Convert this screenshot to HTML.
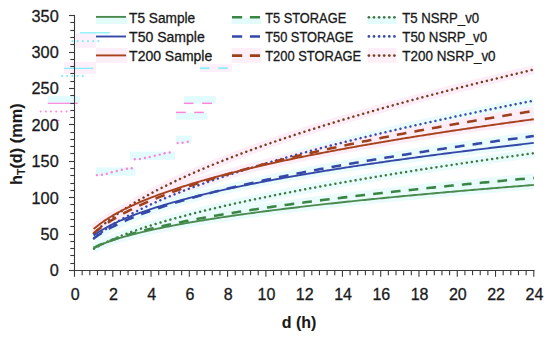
<!DOCTYPE html>
<html><head><meta charset="utf-8"><style>
html,body{margin:0;padding:0;background:#fff;}
body{width:550px;height:343px;overflow:hidden;}
svg{display:block;}
text{font-family:"Liberation Sans",sans-serif;fill:#1a1a1a;stroke:#1a1a1a;stroke-width:0.3px;}
</style></head><body>
<svg width="550" height="343" viewBox="0 0 550 343">
<rect width="550" height="343" fill="#fff"/>

<rect x="47.8" y="96.1" width="32.1" height="6.7" fill="#e2fcfd"/>
<rect x="184" y="96" width="31.8" height="7.6" fill="#e2fcfd"/>
<rect x="176" y="112.9" width="31.6" height="6.8" fill="#e2fcfd"/>
<rect x="175.8" y="135.7" width="15.9" height="7.7" fill="#e2fcfd"/>
<rect x="130" y="151.6" width="45.2" height="8.3" fill="#e2fcfd"/>
<rect x="95.8" y="167.5" width="39.6" height="8.2" fill="#e2fcfd"/>
<rect x="76" y="33" width="20.0" height="15.0" fill="#fdf0fa"/>
<rect x="200" y="64" width="32.0" height="8.0" fill="#fdf0fa"/>
<rect x="64" y="62" width="32.0" height="12.0" fill="#fdf0fa"/>
<rect x="95.8" y="18" width="31.6" height="6" fill="#e4fbfb"/>
<rect x="95.8" y="47.9" width="31.6" height="14.9" fill="#fdeff8"/>
<rect x="231.5" y="18" width="30.0" height="6" fill="#e4fbfb"/>
<rect x="231.5" y="47.9" width="30.0" height="14.9" fill="#fdeff8"/>
<rect x="367.5" y="18" width="29.0" height="6" fill="#e4fbfb"/>
<rect x="367.5" y="47.9" width="29.0" height="14.9" fill="#fdeff8"/>
<line x1="80.1" y1="32.8" x2="109.9" y2="32.8" stroke="#86f0f8" stroke-width="1.3"/>
<line x1="63.8" y1="68.4" x2="93.2" y2="68.4" stroke="#86f0f8" stroke-width="1.3"/>
<circle cx="72.4" cy="41.2" r="1.1" fill="#86f0f8"/>
<circle cx="77.6" cy="41.2" r="1.1" fill="#86f0f8"/>
<circle cx="82.8" cy="41.2" r="1.1" fill="#86f0f8"/>
<circle cx="88.0" cy="41.2" r="1.1" fill="#86f0f8"/>
<circle cx="93.2" cy="41.2" r="1.1" fill="#86f0f8"/>
<circle cx="98.4" cy="41.2" r="1.1" fill="#86f0f8"/>
<circle cx="62.0" cy="75.9" r="1.1" fill="#86f0f8"/>
<circle cx="67.2" cy="75.9" r="1.1" fill="#86f0f8"/>
<circle cx="72.4" cy="75.9" r="1.1" fill="#86f0f8"/>
<circle cx="77.6" cy="75.9" r="1.1" fill="#86f0f8"/>
<circle cx="82.8" cy="75.9" r="1.1" fill="#86f0f8"/>
<line x1="200" y1="68.2" x2="209.5" y2="68.2" stroke="#86f0f8" stroke-width="1.8"/>
<line x1="218.2" y1="68.2" x2="227.7" y2="68.2" stroke="#86f0f8" stroke-width="1.8"/>
<line x1="47.8" y1="103.3" x2="77.9" y2="103.3" stroke="#ff84dc" stroke-width="1.2"/>
<line x1="53" y1="120.4" x2="59.5" y2="120.4" stroke="#ff84dc" stroke-width="1.2"/>
<circle cx="40.6" cy="111.4" r="1.0" fill="#ff84dc"/>
<circle cx="45.8" cy="111.4" r="1.0" fill="#ff84dc"/>
<circle cx="51.0" cy="111.4" r="1.0" fill="#ff84dc"/>
<circle cx="56.2" cy="111.4" r="1.0" fill="#ff84dc"/>
<circle cx="61.4" cy="111.4" r="1.0" fill="#ff84dc"/>
<circle cx="66.6" cy="111.4" r="1.0" fill="#ff84dc"/>
<line x1="184" y1="103.3" x2="193.5" y2="103.3" stroke="#ff84dc" stroke-width="1.5"/>
<line x1="202.2" y1="103.3" x2="212" y2="103.3" stroke="#ff84dc" stroke-width="1.5"/>
<line x1="176" y1="112.4" x2="185.8" y2="112.4" stroke="#ff84dc" stroke-width="1.5"/>
<line x1="194.2" y1="112.4" x2="203.8" y2="112.4" stroke="#ff84dc" stroke-width="1.5"/>
<circle cx="177.7" cy="143.1" r="1.2" fill="#ff84dc"/>
<circle cx="182.6" cy="142.7" r="1.2" fill="#ff84dc"/>
<circle cx="187.7" cy="141.8" r="1.2" fill="#ff84dc"/>
<circle cx="134.8" cy="159.3" r="1.2" fill="#ff84dc"/>
<circle cx="139.9" cy="159" r="1.2" fill="#ff84dc"/>
<circle cx="144.9" cy="158" r="1.2" fill="#ff84dc"/>
<circle cx="149.7" cy="157" r="1.2" fill="#ff84dc"/>
<circle cx="154.8" cy="155.8" r="1.2" fill="#ff84dc"/>
<circle cx="159.7" cy="154.6" r="1.2" fill="#ff84dc"/>
<circle cx="164.6" cy="153.3" r="1.2" fill="#ff84dc"/>
<circle cx="169.7" cy="152.5" r="1.2" fill="#ff84dc"/>
<circle cx="96.9" cy="175.1" r="1.2" fill="#ff84dc"/>
<circle cx="101.9" cy="174.7" r="1.2" fill="#ff84dc"/>
<circle cx="106.8" cy="173.7" r="1.2" fill="#ff84dc"/>
<circle cx="111.7" cy="172.2" r="1.2" fill="#ff84dc"/>
<circle cx="116.8" cy="171" r="1.2" fill="#ff84dc"/>
<circle cx="121.8" cy="169.8" r="1.2" fill="#ff84dc"/>
<circle cx="126.9" cy="168.7" r="1.2" fill="#ff84dc"/>
<circle cx="131.7" cy="168.3" r="1.2" fill="#ff84dc"/>
<line x1="74.5" y1="15.2" x2="74.5" y2="271" stroke="#3a3a3a" stroke-width="1.1"/>
<line x1="74" y1="270.5" x2="534.3" y2="270.5" stroke="#3a3a3a" stroke-width="1.1"/>
<line x1="69" y1="270.5" x2="75" y2="270.5" stroke="#3a3a3a" stroke-width="1.1"/>
<line x1="70.3" y1="263.5" x2="75" y2="263.5" stroke="#3a3a3a" stroke-width="1.1"/>
<line x1="70.3" y1="255.5" x2="75" y2="255.5" stroke="#3a3a3a" stroke-width="1.1"/>
<line x1="70.3" y1="248.5" x2="75" y2="248.5" stroke="#3a3a3a" stroke-width="1.1"/>
<line x1="70.3" y1="241.5" x2="75" y2="241.5" stroke="#3a3a3a" stroke-width="1.1"/>
<line x1="69" y1="234.5" x2="75" y2="234.5" stroke="#3a3a3a" stroke-width="1.1"/>
<line x1="70.3" y1="226.5" x2="75" y2="226.5" stroke="#3a3a3a" stroke-width="1.1"/>
<line x1="70.3" y1="219.5" x2="75" y2="219.5" stroke="#3a3a3a" stroke-width="1.1"/>
<line x1="70.3" y1="212.5" x2="75" y2="212.5" stroke="#3a3a3a" stroke-width="1.1"/>
<line x1="70.3" y1="204.5" x2="75" y2="204.5" stroke="#3a3a3a" stroke-width="1.1"/>
<line x1="69" y1="197.5" x2="75" y2="197.5" stroke="#3a3a3a" stroke-width="1.1"/>
<line x1="70.3" y1="190.5" x2="75" y2="190.5" stroke="#3a3a3a" stroke-width="1.1"/>
<line x1="70.3" y1="183.5" x2="75" y2="183.5" stroke="#3a3a3a" stroke-width="1.1"/>
<line x1="70.3" y1="175.5" x2="75" y2="175.5" stroke="#3a3a3a" stroke-width="1.1"/>
<line x1="70.3" y1="168.5" x2="75" y2="168.5" stroke="#3a3a3a" stroke-width="1.1"/>
<line x1="69" y1="161.5" x2="75" y2="161.5" stroke="#3a3a3a" stroke-width="1.1"/>
<line x1="70.3" y1="153.5" x2="75" y2="153.5" stroke="#3a3a3a" stroke-width="1.1"/>
<line x1="70.3" y1="146.5" x2="75" y2="146.5" stroke="#3a3a3a" stroke-width="1.1"/>
<line x1="70.3" y1="139.5" x2="75" y2="139.5" stroke="#3a3a3a" stroke-width="1.1"/>
<line x1="70.3" y1="132.5" x2="75" y2="132.5" stroke="#3a3a3a" stroke-width="1.1"/>
<line x1="69" y1="124.5" x2="75" y2="124.5" stroke="#3a3a3a" stroke-width="1.1"/>
<line x1="70.3" y1="117.5" x2="75" y2="117.5" stroke="#3a3a3a" stroke-width="1.1"/>
<line x1="70.3" y1="110.5" x2="75" y2="110.5" stroke="#3a3a3a" stroke-width="1.1"/>
<line x1="70.3" y1="103.5" x2="75" y2="103.5" stroke="#3a3a3a" stroke-width="1.1"/>
<line x1="70.3" y1="95.5" x2="75" y2="95.5" stroke="#3a3a3a" stroke-width="1.1"/>
<line x1="69" y1="88.5" x2="75" y2="88.5" stroke="#3a3a3a" stroke-width="1.1"/>
<line x1="70.3" y1="81.5" x2="75" y2="81.5" stroke="#3a3a3a" stroke-width="1.1"/>
<line x1="70.3" y1="73.5" x2="75" y2="73.5" stroke="#3a3a3a" stroke-width="1.1"/>
<line x1="70.3" y1="66.5" x2="75" y2="66.5" stroke="#3a3a3a" stroke-width="1.1"/>
<line x1="70.3" y1="59.5" x2="75" y2="59.5" stroke="#3a3a3a" stroke-width="1.1"/>
<line x1="69" y1="52.5" x2="75" y2="52.5" stroke="#3a3a3a" stroke-width="1.1"/>
<line x1="70.3" y1="44.5" x2="75" y2="44.5" stroke="#3a3a3a" stroke-width="1.1"/>
<line x1="70.3" y1="37.5" x2="75" y2="37.5" stroke="#3a3a3a" stroke-width="1.1"/>
<line x1="70.3" y1="30.5" x2="75" y2="30.5" stroke="#3a3a3a" stroke-width="1.1"/>
<line x1="70.3" y1="22.5" x2="75" y2="22.5" stroke="#3a3a3a" stroke-width="1.1"/>
<line x1="69" y1="15.5" x2="75" y2="15.5" stroke="#3a3a3a" stroke-width="1.1"/>
<line x1="74.50" y1="270" x2="74.50" y2="276.8" stroke="#3a3a3a" stroke-width="1.1"/>
<line x1="82.16" y1="270" x2="82.16" y2="275.2" stroke="#3a3a3a" stroke-width="1.1"/>
<line x1="89.81" y1="270" x2="89.81" y2="275.2" stroke="#3a3a3a" stroke-width="1.1"/>
<line x1="97.47" y1="270" x2="97.47" y2="275.2" stroke="#3a3a3a" stroke-width="1.1"/>
<line x1="105.12" y1="270" x2="105.12" y2="275.2" stroke="#3a3a3a" stroke-width="1.1"/>
<line x1="112.78" y1="270" x2="112.78" y2="276.8" stroke="#3a3a3a" stroke-width="1.1"/>
<line x1="120.43" y1="270" x2="120.43" y2="275.2" stroke="#3a3a3a" stroke-width="1.1"/>
<line x1="128.09" y1="270" x2="128.09" y2="275.2" stroke="#3a3a3a" stroke-width="1.1"/>
<line x1="135.74" y1="270" x2="135.74" y2="275.2" stroke="#3a3a3a" stroke-width="1.1"/>
<line x1="143.39" y1="270" x2="143.39" y2="275.2" stroke="#3a3a3a" stroke-width="1.1"/>
<line x1="151.05" y1="270" x2="151.05" y2="276.8" stroke="#3a3a3a" stroke-width="1.1"/>
<line x1="158.70" y1="270" x2="158.70" y2="275.2" stroke="#3a3a3a" stroke-width="1.1"/>
<line x1="166.36" y1="270" x2="166.36" y2="275.2" stroke="#3a3a3a" stroke-width="1.1"/>
<line x1="174.01" y1="270" x2="174.01" y2="275.2" stroke="#3a3a3a" stroke-width="1.1"/>
<line x1="181.67" y1="270" x2="181.67" y2="275.2" stroke="#3a3a3a" stroke-width="1.1"/>
<line x1="189.32" y1="270" x2="189.32" y2="276.8" stroke="#3a3a3a" stroke-width="1.1"/>
<line x1="196.98" y1="270" x2="196.98" y2="275.2" stroke="#3a3a3a" stroke-width="1.1"/>
<line x1="204.64" y1="270" x2="204.64" y2="275.2" stroke="#3a3a3a" stroke-width="1.1"/>
<line x1="212.29" y1="270" x2="212.29" y2="275.2" stroke="#3a3a3a" stroke-width="1.1"/>
<line x1="219.94" y1="270" x2="219.94" y2="275.2" stroke="#3a3a3a" stroke-width="1.1"/>
<line x1="227.60" y1="270" x2="227.60" y2="276.8" stroke="#3a3a3a" stroke-width="1.1"/>
<line x1="235.25" y1="270" x2="235.25" y2="275.2" stroke="#3a3a3a" stroke-width="1.1"/>
<line x1="242.91" y1="270" x2="242.91" y2="275.2" stroke="#3a3a3a" stroke-width="1.1"/>
<line x1="250.57" y1="270" x2="250.57" y2="275.2" stroke="#3a3a3a" stroke-width="1.1"/>
<line x1="258.22" y1="270" x2="258.22" y2="275.2" stroke="#3a3a3a" stroke-width="1.1"/>
<line x1="265.88" y1="270" x2="265.88" y2="276.8" stroke="#3a3a3a" stroke-width="1.1"/>
<line x1="273.53" y1="270" x2="273.53" y2="275.2" stroke="#3a3a3a" stroke-width="1.1"/>
<line x1="281.19" y1="270" x2="281.19" y2="275.2" stroke="#3a3a3a" stroke-width="1.1"/>
<line x1="288.84" y1="270" x2="288.84" y2="275.2" stroke="#3a3a3a" stroke-width="1.1"/>
<line x1="296.50" y1="270" x2="296.50" y2="275.2" stroke="#3a3a3a" stroke-width="1.1"/>
<line x1="304.15" y1="270" x2="304.15" y2="276.8" stroke="#3a3a3a" stroke-width="1.1"/>
<line x1="311.81" y1="270" x2="311.81" y2="275.2" stroke="#3a3a3a" stroke-width="1.1"/>
<line x1="319.46" y1="270" x2="319.46" y2="275.2" stroke="#3a3a3a" stroke-width="1.1"/>
<line x1="327.12" y1="270" x2="327.12" y2="275.2" stroke="#3a3a3a" stroke-width="1.1"/>
<line x1="334.77" y1="270" x2="334.77" y2="275.2" stroke="#3a3a3a" stroke-width="1.1"/>
<line x1="342.43" y1="270" x2="342.43" y2="276.8" stroke="#3a3a3a" stroke-width="1.1"/>
<line x1="350.08" y1="270" x2="350.08" y2="275.2" stroke="#3a3a3a" stroke-width="1.1"/>
<line x1="357.74" y1="270" x2="357.74" y2="275.2" stroke="#3a3a3a" stroke-width="1.1"/>
<line x1="365.39" y1="270" x2="365.39" y2="275.2" stroke="#3a3a3a" stroke-width="1.1"/>
<line x1="373.05" y1="270" x2="373.05" y2="275.2" stroke="#3a3a3a" stroke-width="1.1"/>
<line x1="380.70" y1="270" x2="380.70" y2="276.8" stroke="#3a3a3a" stroke-width="1.1"/>
<line x1="388.36" y1="270" x2="388.36" y2="275.2" stroke="#3a3a3a" stroke-width="1.1"/>
<line x1="396.01" y1="270" x2="396.01" y2="275.2" stroke="#3a3a3a" stroke-width="1.1"/>
<line x1="403.66" y1="270" x2="403.66" y2="275.2" stroke="#3a3a3a" stroke-width="1.1"/>
<line x1="411.32" y1="270" x2="411.32" y2="275.2" stroke="#3a3a3a" stroke-width="1.1"/>
<line x1="418.97" y1="270" x2="418.97" y2="276.8" stroke="#3a3a3a" stroke-width="1.1"/>
<line x1="426.63" y1="270" x2="426.63" y2="275.2" stroke="#3a3a3a" stroke-width="1.1"/>
<line x1="434.29" y1="270" x2="434.29" y2="275.2" stroke="#3a3a3a" stroke-width="1.1"/>
<line x1="441.94" y1="270" x2="441.94" y2="275.2" stroke="#3a3a3a" stroke-width="1.1"/>
<line x1="449.60" y1="270" x2="449.60" y2="275.2" stroke="#3a3a3a" stroke-width="1.1"/>
<line x1="457.25" y1="270" x2="457.25" y2="276.8" stroke="#3a3a3a" stroke-width="1.1"/>
<line x1="464.91" y1="270" x2="464.91" y2="275.2" stroke="#3a3a3a" stroke-width="1.1"/>
<line x1="472.56" y1="270" x2="472.56" y2="275.2" stroke="#3a3a3a" stroke-width="1.1"/>
<line x1="480.22" y1="270" x2="480.22" y2="275.2" stroke="#3a3a3a" stroke-width="1.1"/>
<line x1="487.87" y1="270" x2="487.87" y2="275.2" stroke="#3a3a3a" stroke-width="1.1"/>
<line x1="495.52" y1="270" x2="495.52" y2="276.8" stroke="#3a3a3a" stroke-width="1.1"/>
<line x1="503.18" y1="270" x2="503.18" y2="275.2" stroke="#3a3a3a" stroke-width="1.1"/>
<line x1="510.83" y1="270" x2="510.83" y2="275.2" stroke="#3a3a3a" stroke-width="1.1"/>
<line x1="518.49" y1="270" x2="518.49" y2="275.2" stroke="#3a3a3a" stroke-width="1.1"/>
<line x1="526.14" y1="270" x2="526.14" y2="275.2" stroke="#3a3a3a" stroke-width="1.1"/>
<line x1="533.80" y1="270" x2="533.80" y2="276.8" stroke="#3a3a3a" stroke-width="1.1"/>
<text x="58.7" y="276.30" font-size="16.3" text-anchor="end">0</text>
<text x="58.7" y="239.91" font-size="16.3" text-anchor="end">50</text>
<text x="58.7" y="203.53" font-size="16.3" text-anchor="end">100</text>
<text x="58.7" y="167.14" font-size="16.3" text-anchor="end">150</text>
<text x="58.7" y="130.76" font-size="16.3" text-anchor="end">200</text>
<text x="58.7" y="94.37" font-size="16.3" text-anchor="end">250</text>
<text x="58.7" y="57.99" font-size="16.3" text-anchor="end">300</text>
<text x="58.7" y="21.60" font-size="16.3" text-anchor="end">350</text>
<text x="75.10" y="300.2" font-size="16" text-anchor="middle">0</text>
<text x="113.38" y="300.2" font-size="16" text-anchor="middle">2</text>
<text x="151.65" y="300.2" font-size="16" text-anchor="middle">4</text>
<text x="189.92" y="300.2" font-size="16" text-anchor="middle">6</text>
<text x="228.20" y="300.2" font-size="16" text-anchor="middle">8</text>
<text x="266.48" y="300.2" font-size="16" text-anchor="middle">10</text>
<text x="304.75" y="300.2" font-size="16" text-anchor="middle">12</text>
<text x="343.03" y="300.2" font-size="16" text-anchor="middle">14</text>
<text x="381.30" y="300.2" font-size="16" text-anchor="middle">16</text>
<text x="419.57" y="300.2" font-size="16" text-anchor="middle">18</text>
<text x="457.85" y="300.2" font-size="16" text-anchor="middle">20</text>
<text x="496.12" y="300.2" font-size="16" text-anchor="middle">22</text>
<text x="534.40" y="300.2" font-size="16" text-anchor="middle">24</text>
<text x="299" y="328.1" font-size="16" font-weight="bold" text-anchor="middle" style="stroke-width:0.1px">d (h)</text>
<text transform="translate(22.2,144.2) rotate(-90)" font-size="16.3" font-weight="bold" text-anchor="middle" style="stroke-width:0.1px">h<tspan font-size="10.5" dy="2.6">T</tspan><tspan dy="-2.6">(d) (mm)</tspan></text>
<path d="M93.64,247.84 L95.84,246.79 L98.04,245.80 L100.24,244.86 L102.44,243.97 L104.64,243.11 L106.84,242.29 L109.04,241.51 L111.24,240.75 L113.44,240.02 L115.65,239.31 L117.85,238.62 L120.05,237.96 L122.25,237.31 L124.45,236.68 L126.65,236.07 L128.85,235.47 L131.05,234.88 L133.25,234.31 L135.45,233.75 L137.65,233.20 L139.85,232.66 L142.06,232.13 L144.26,231.61 L146.46,231.11 L148.66,230.61 L150.86,230.12 L153.06,229.63 L155.26,229.16 L157.46,228.69 L159.66,228.23 L161.86,227.78 L164.06,227.33 L166.26,226.89 L168.47,226.46 L170.67,226.03 L172.87,225.61 L175.07,225.19 L177.27,224.78 L179.47,224.37 L181.67,223.97 L183.87,223.57 L186.07,223.18 L188.27,222.79 L190.47,222.41 L192.67,222.03 L194.87,221.65 L197.08,221.28 L199.28,220.91 L201.48,220.55 L203.68,220.19 L205.88,219.83 L208.08,219.48 L210.28,219.13 L212.48,218.78 L214.68,218.44 L216.88,218.10 L219.08,217.76 L221.28,217.43 L223.49,217.10 L225.69,216.77 L227.89,216.44 L230.09,216.12 L232.29,215.80 L234.49,215.48 L236.69,215.17 L238.89,214.85 L241.09,214.54 L243.29,214.24 L245.49,213.93 L247.69,213.63 L249.90,213.32 L252.10,213.03 L254.30,212.73 L256.50,212.43 L258.70,212.14 L260.90,211.85 L263.10,211.56 L265.30,211.28 L267.50,210.99 L269.70,210.71 L271.90,210.43 L274.10,210.15 L276.30,209.87 L278.51,209.59 L280.71,209.32 L282.91,209.05 L285.11,208.78 L287.31,208.51 L289.51,208.24 L291.71,207.98 L293.91,207.71 L296.11,207.45 L298.31,207.19 L300.51,206.93 L302.71,206.67 L304.92,206.41 L307.12,206.16 L309.32,205.90 L311.52,205.65 L313.72,205.40 L315.92,205.15 L318.12,204.90 L320.32,204.65 L322.52,204.41 L324.72,204.16 L326.92,203.92 L329.12,203.68 L331.33,203.44 L333.53,203.20 L335.73,202.96 L337.93,202.72 L340.13,202.48 L342.33,202.25 L344.53,202.01 L346.73,201.78 L348.93,201.55 L351.13,201.32 L353.33,201.09 L355.53,200.86 L357.74,200.63 L359.94,200.41 L362.14,200.18 L364.34,199.96 L366.54,199.73 L368.74,199.51 L370.94,199.29 L373.14,199.07 L375.34,198.85 L377.54,198.63 L379.74,198.41 L381.94,198.19 L384.14,197.98 L386.35,197.76 L388.55,197.55 L390.75,197.33 L392.95,197.12 L395.15,196.91 L397.35,196.70 L399.55,196.49 L401.75,196.28 L403.95,196.07 L406.15,195.86 L408.35,195.66 L410.55,195.45 L412.76,195.25 L414.96,195.04 L417.16,194.84 L419.36,194.63 L421.56,194.43 L423.76,194.23 L425.96,194.03 L428.16,193.83 L430.36,193.63 L432.56,193.43 L434.76,193.23 L436.96,193.04 L439.17,192.84 L441.37,192.64 L443.57,192.45 L445.77,192.25 L447.97,192.06 L450.17,191.87 L452.37,191.68 L454.57,191.48 L456.77,191.29 L458.97,191.10 L461.17,190.91 L463.37,190.72 L465.57,190.53 L467.78,190.35 L469.98,190.16 L472.18,189.97 L474.38,189.79 L476.58,189.60 L478.78,189.42 L480.98,189.23 L483.18,189.05 L485.38,188.86 L487.58,188.68 L489.78,188.50 L491.98,188.32 L494.19,188.14 L496.39,187.96 L498.59,187.78 L500.79,187.60 L502.99,187.42 L505.19,187.24 L507.39,187.06 L509.59,186.88 L511.79,186.71 L513.99,186.53 L516.19,186.36 L518.39,186.18 L520.60,186.01 L522.80,185.83 L525.00,185.66 L527.20,185.48 L529.40,185.31 L531.60,185.14 L533.80,184.97" stroke="#e9fbfa" stroke-width="9" fill="none" stroke-linecap="butt"/>
<path d="M93.64,235.54 L95.84,233.96 L98.04,232.47 L100.24,231.06 L102.44,229.72 L104.64,228.45 L106.84,227.22 L109.04,226.05 L111.24,224.91 L113.44,223.82 L115.65,222.77 L117.85,221.74 L120.05,220.75 L122.25,219.78 L124.45,218.84 L126.65,217.93 L128.85,217.04 L131.05,216.17 L133.25,215.31 L135.45,214.48 L137.65,213.67 L139.85,212.87 L142.06,212.09 L144.26,211.32 L146.46,210.56 L148.66,209.82 L150.86,209.10 L153.06,208.38 L155.26,207.68 L157.46,206.99 L159.66,206.31 L161.86,205.64 L164.06,204.97 L166.26,204.32 L168.47,203.68 L170.67,203.05 L172.87,202.42 L175.07,201.81 L177.27,201.20 L179.47,200.60 L181.67,200.00 L183.87,199.42 L186.07,198.84 L188.27,198.27 L190.47,197.70 L192.67,197.14 L194.87,196.59 L197.08,196.04 L199.28,195.50 L201.48,194.96 L203.68,194.43 L205.88,193.90 L208.08,193.38 L210.28,192.87 L212.48,192.36 L214.68,191.85 L216.88,191.35 L219.08,190.86 L221.28,190.36 L223.49,189.88 L225.69,189.39 L227.89,188.91 L230.09,188.44 L232.29,187.97 L234.49,187.50 L236.69,187.04 L238.89,186.58 L241.09,186.12 L243.29,185.67 L245.49,185.22 L247.69,184.78 L249.90,184.33 L252.10,183.89 L254.30,183.46 L256.50,183.03 L258.70,182.60 L260.90,182.17 L263.10,181.75 L265.30,181.33 L267.50,180.91 L269.70,180.49 L271.90,180.08 L274.10,179.67 L276.30,179.26 L278.51,178.86 L280.71,178.46 L282.91,178.06 L285.11,177.66 L287.31,177.27 L289.51,176.88 L291.71,176.49 L293.91,176.10 L296.11,175.72 L298.31,175.33 L300.51,174.95 L302.71,174.57 L304.92,174.20 L307.12,173.82 L309.32,173.45 L311.52,173.08 L313.72,172.72 L315.92,172.35 L318.12,171.99 L320.32,171.62 L322.52,171.26 L324.72,170.91 L326.92,170.55 L329.12,170.20 L331.33,169.84 L333.53,169.49 L335.73,169.14 L337.93,168.80 L340.13,168.45 L342.33,168.11 L344.53,167.77 L346.73,167.42 L348.93,167.09 L351.13,166.75 L353.33,166.41 L355.53,166.08 L357.74,165.75 L359.94,165.42 L362.14,165.09 L364.34,164.76 L366.54,164.43 L368.74,164.11 L370.94,163.78 L373.14,163.46 L375.34,163.14 L377.54,162.82 L379.74,162.50 L381.94,162.19 L384.14,161.87 L386.35,161.56 L388.55,161.24 L390.75,160.93 L392.95,160.62 L395.15,160.31 L397.35,160.00 L399.55,159.70 L401.75,159.39 L403.95,159.09 L406.15,158.79 L408.35,158.48 L410.55,158.18 L412.76,157.88 L414.96,157.59 L417.16,157.29 L419.36,156.99 L421.56,156.70 L423.76,156.41 L425.96,156.11 L428.16,155.82 L430.36,155.53 L432.56,155.24 L434.76,154.95 L436.96,154.67 L439.17,154.38 L441.37,154.10 L443.57,153.81 L445.77,153.53 L447.97,153.25 L450.17,152.96 L452.37,152.68 L454.57,152.41 L456.77,152.13 L458.97,151.85 L461.17,151.57 L463.37,151.30 L465.57,151.02 L467.78,150.75 L469.98,150.48 L472.18,150.20 L474.38,149.93 L476.58,149.66 L478.78,149.39 L480.98,149.13 L483.18,148.86 L485.38,148.59 L487.58,148.33 L489.78,148.06 L491.98,147.80 L494.19,147.53 L496.39,147.27 L498.59,147.01 L500.79,146.75 L502.99,146.49 L505.19,146.23 L507.39,145.97 L509.59,145.71 L511.79,145.46 L513.99,145.20 L516.19,144.94 L518.39,144.69 L520.60,144.44 L522.80,144.18 L525.00,143.93 L527.20,143.68 L529.40,143.43 L531.60,143.18 L533.80,142.93" stroke="#e9fbfa" stroke-width="9" fill="none" stroke-linecap="butt"/>
<path d="M93.64,247.91 L95.84,246.80 L98.04,245.74 L100.24,244.74 L102.44,243.79 L104.64,242.88 L106.84,242.00 L109.04,241.16 L111.24,240.34 L113.44,239.55 L115.65,238.79 L117.85,238.05 L120.05,237.33 L122.25,236.62 L124.45,235.94 L126.65,235.27 L128.85,234.62 L131.05,233.98 L133.25,233.36 L135.45,232.75 L137.65,232.15 L139.85,231.56 L142.06,230.98 L144.26,230.42 L146.46,229.86 L148.66,229.31 L150.86,228.78 L153.06,228.25 L155.26,227.72 L157.46,227.21 L159.66,226.71 L161.86,226.21 L164.06,225.71 L166.26,225.23 L168.47,224.75 L170.67,224.28 L172.87,223.81 L175.07,223.35 L177.27,222.89 L179.47,222.44 L181.67,222.00 L183.87,221.56 L186.07,221.12 L188.27,220.69 L190.47,220.27 L192.67,219.85 L194.87,219.43 L197.08,219.02 L199.28,218.61 L201.48,218.20 L203.68,217.80 L205.88,217.41 L208.08,217.01 L210.28,216.62 L212.48,216.24 L214.68,215.86 L216.88,215.48 L219.08,215.10 L221.28,214.73 L223.49,214.36 L225.69,213.99 L227.89,213.63 L230.09,213.27 L232.29,212.91 L234.49,212.55 L236.69,212.20 L238.89,211.85 L241.09,211.50 L243.29,211.16 L245.49,210.81 L247.69,210.47 L249.90,210.14 L252.10,209.80 L254.30,209.47 L256.50,209.14 L258.70,208.81 L260.90,208.48 L263.10,208.16 L265.30,207.84 L267.50,207.52 L269.70,207.20 L271.90,206.88 L274.10,206.57 L276.30,206.25 L278.51,205.94 L280.71,205.64 L282.91,205.33 L285.11,205.02 L287.31,204.72 L289.51,204.42 L291.71,204.12 L293.91,203.82 L296.11,203.53 L298.31,203.23 L300.51,202.94 L302.71,202.65 L304.92,202.36 L307.12,202.07 L309.32,201.78 L311.52,201.50 L313.72,201.21 L315.92,200.93 L318.12,200.65 L320.32,200.37 L322.52,200.09 L324.72,199.81 L326.92,199.54 L329.12,199.26 L331.33,198.99 L333.53,198.72 L335.73,198.45 L337.93,198.18 L340.13,197.91 L342.33,197.64 L344.53,197.38 L346.73,197.11 L348.93,196.85 L351.13,196.59 L353.33,196.33 L355.53,196.07 L357.74,195.81 L359.94,195.55 L362.14,195.30 L364.34,195.04 L366.54,194.79 L368.74,194.53 L370.94,194.28 L373.14,194.03 L375.34,193.78 L377.54,193.53 L379.74,193.28 L381.94,193.04 L384.14,192.79 L386.35,192.55 L388.55,192.30 L390.75,192.06 L392.95,191.82 L395.15,191.58 L397.35,191.34 L399.55,191.10 L401.75,190.86 L403.95,190.62 L406.15,190.38 L408.35,190.15 L410.55,189.91 L412.76,189.68 L414.96,189.45 L417.16,189.21 L419.36,188.98 L421.56,188.75 L423.76,188.52 L425.96,188.29 L428.16,188.06 L430.36,187.84 L432.56,187.61 L434.76,187.38 L436.96,187.16 L439.17,186.93 L441.37,186.71 L443.57,186.49 L445.77,186.26 L447.97,186.04 L450.17,185.82 L452.37,185.60 L454.57,185.38 L456.77,185.16 L458.97,184.95 L461.17,184.73 L463.37,184.51 L465.57,184.30 L467.78,184.08 L469.98,183.87 L472.18,183.65 L474.38,183.44 L476.58,183.23 L478.78,183.01 L480.98,182.80 L483.18,182.59 L485.38,182.38 L487.58,182.17 L489.78,181.96 L491.98,181.75 L494.19,181.55 L496.39,181.34 L498.59,181.13 L500.79,180.93 L502.99,180.72 L505.19,180.52 L507.39,180.31 L509.59,180.11 L511.79,179.91 L513.99,179.70 L516.19,179.50 L518.39,179.30 L520.60,179.10 L522.80,178.90 L525.00,178.70 L527.20,178.50 L529.40,178.30 L531.60,178.11 L533.80,177.91" stroke="#e9fbfa" stroke-width="9" fill="none" stroke-linecap="butt"/>
<path d="M93.64,238.45 L95.84,236.84 L98.04,235.32 L100.24,233.87 L102.44,232.49 L104.64,231.17 L106.84,229.90 L109.04,228.68 L111.24,227.50 L113.44,226.36 L115.65,225.25 L117.85,224.17 L120.05,223.13 L122.25,222.11 L124.45,221.11 L126.65,220.14 L128.85,219.19 L131.05,218.27 L133.25,217.36 L135.45,216.47 L137.65,215.60 L139.85,214.74 L142.06,213.90 L144.26,213.08 L146.46,212.27 L148.66,211.47 L150.86,210.69 L153.06,209.92 L155.26,209.16 L157.46,208.41 L159.66,207.67 L161.86,206.94 L164.06,206.22 L166.26,205.52 L168.47,204.82 L170.67,204.13 L172.87,203.45 L175.07,202.77 L177.27,202.11 L179.47,201.45 L181.67,200.80 L183.87,200.16 L186.07,199.52 L188.27,198.90 L190.47,198.27 L192.67,197.66 L194.87,197.05 L197.08,196.45 L199.28,195.85 L201.48,195.26 L203.68,194.67 L205.88,194.09 L208.08,193.52 L210.28,192.95 L212.48,192.38 L214.68,191.82 L216.88,191.27 L219.08,190.71 L221.28,190.17 L223.49,189.63 L225.69,189.09 L227.89,188.56 L230.09,188.03 L232.29,187.50 L234.49,186.98 L236.69,186.47 L238.89,185.95 L241.09,185.44 L243.29,184.94 L245.49,184.44 L247.69,183.94 L249.90,183.44 L252.10,182.95 L254.30,182.46 L256.50,181.98 L258.70,181.50 L260.90,181.02 L263.10,180.54 L265.30,180.07 L267.50,179.60 L269.70,179.14 L271.90,178.67 L274.10,178.21 L276.30,177.75 L278.51,177.30 L280.71,176.84 L282.91,176.39 L285.11,175.95 L287.31,175.50 L289.51,175.06 L291.71,174.62 L293.91,174.18 L296.11,173.75 L298.31,173.31 L300.51,172.88 L302.71,172.46 L304.92,172.03 L307.12,171.61 L309.32,171.19 L311.52,170.77 L313.72,170.35 L315.92,169.93 L318.12,169.52 L320.32,169.11 L322.52,168.70 L324.72,168.29 L326.92,167.89 L329.12,167.49 L331.33,167.09 L333.53,166.69 L335.73,166.29 L337.93,165.89 L340.13,165.50 L342.33,165.11 L344.53,164.72 L346.73,164.33 L348.93,163.94 L351.13,163.56 L353.33,163.17 L355.53,162.79 L357.74,162.41 L359.94,162.03 L362.14,161.66 L364.34,161.28 L366.54,160.91 L368.74,160.54 L370.94,160.16 L373.14,159.80 L375.34,159.43 L377.54,159.06 L379.74,158.70 L381.94,158.33 L384.14,157.97 L386.35,157.61 L388.55,157.25 L390.75,156.89 L392.95,156.54 L395.15,156.18 L397.35,155.83 L399.55,155.48 L401.75,155.13 L403.95,154.78 L406.15,154.43 L408.35,154.08 L410.55,153.73 L412.76,153.39 L414.96,153.05 L417.16,152.70 L419.36,152.36 L421.56,152.02 L423.76,151.68 L425.96,151.35 L428.16,151.01 L430.36,150.68 L432.56,150.34 L434.76,150.01 L436.96,149.68 L439.17,149.35 L441.37,149.02 L443.57,148.69 L445.77,148.36 L447.97,148.03 L450.17,147.71 L452.37,147.38 L454.57,147.06 L456.77,146.74 L458.97,146.42 L461.17,146.10 L463.37,145.78 L465.57,145.46 L467.78,145.14 L469.98,144.82 L472.18,144.51 L474.38,144.20 L476.58,143.88 L478.78,143.57 L480.98,143.26 L483.18,142.95 L485.38,142.64 L487.58,142.33 L489.78,142.02 L491.98,141.71 L494.19,141.41 L496.39,141.10 L498.59,140.80 L500.79,140.49 L502.99,140.19 L505.19,139.89 L507.39,139.59 L509.59,139.29 L511.79,138.99 L513.99,138.69 L516.19,138.39 L518.39,138.10 L520.60,137.80 L522.80,137.50 L525.00,137.21 L527.20,136.92 L529.40,136.62 L531.60,136.33 L533.80,136.04" stroke="#e9fbfa" stroke-width="9" fill="none" stroke-linecap="butt"/>
<path d="M93.64,248.93 L95.84,247.65 L98.04,246.42 L100.24,245.25 L102.44,244.13 L104.64,243.04 L106.84,241.99 L109.04,240.97 L111.24,239.99 L113.44,239.03 L115.65,238.09 L117.85,237.18 L120.05,236.29 L122.25,235.42 L124.45,234.57 L126.65,233.73 L128.85,232.92 L131.05,232.11 L133.25,231.32 L135.45,230.55 L137.65,229.79 L139.85,229.04 L142.06,228.30 L144.26,227.57 L146.46,226.86 L148.66,226.15 L150.86,225.45 L153.06,224.77 L155.26,224.09 L157.46,223.42 L159.66,222.76 L161.86,222.10 L164.06,221.46 L166.26,220.82 L168.47,220.19 L170.67,219.56 L172.87,218.94 L175.07,218.33 L177.27,217.73 L179.47,217.13 L181.67,216.53 L183.87,215.95 L186.07,215.36 L188.27,214.79 L190.47,214.22 L192.67,213.65 L194.87,213.09 L197.08,212.53 L199.28,211.98 L201.48,211.43 L203.68,210.89 L205.88,210.35 L208.08,209.81 L210.28,209.28 L212.48,208.75 L214.68,208.23 L216.88,207.71 L219.08,207.19 L221.28,206.68 L223.49,206.17 L225.69,205.67 L227.89,205.17 L230.09,204.67 L232.29,204.18 L234.49,203.68 L236.69,203.20 L238.89,202.71 L241.09,202.23 L243.29,201.75 L245.49,201.27 L247.69,200.80 L249.90,200.33 L252.10,199.86 L254.30,199.39 L256.50,198.93 L258.70,198.47 L260.90,198.01 L263.10,197.56 L265.30,197.10 L267.50,196.65 L269.70,196.21 L271.90,195.76 L274.10,195.32 L276.30,194.88 L278.51,194.44 L280.71,194.00 L282.91,193.57 L285.11,193.13 L287.31,192.70 L289.51,192.28 L291.71,191.85 L293.91,191.43 L296.11,191.00 L298.31,190.58 L300.51,190.17 L302.71,189.75 L304.92,189.34 L307.12,188.92 L309.32,188.51 L311.52,188.10 L313.72,187.70 L315.92,187.29 L318.12,186.89 L320.32,186.49 L322.52,186.08 L324.72,185.69 L326.92,185.29 L329.12,184.89 L331.33,184.50 L333.53,184.11 L335.73,183.72 L337.93,183.33 L340.13,182.94 L342.33,182.55 L344.53,182.17 L346.73,181.79 L348.93,181.40 L351.13,181.02 L353.33,180.64 L355.53,180.27 L357.74,179.89 L359.94,179.52 L362.14,179.14 L364.34,178.77 L366.54,178.40 L368.74,178.03 L370.94,177.66 L373.14,177.29 L375.34,176.93 L377.54,176.56 L379.74,176.20 L381.94,175.84 L384.14,175.48 L386.35,175.12 L388.55,174.76 L390.75,174.40 L392.95,174.05 L395.15,173.69 L397.35,173.34 L399.55,172.98 L401.75,172.63 L403.95,172.28 L406.15,171.93 L408.35,171.58 L410.55,171.24 L412.76,170.89 L414.96,170.55 L417.16,170.20 L419.36,169.86 L421.56,169.52 L423.76,169.17 L425.96,168.83 L428.16,168.50 L430.36,168.16 L432.56,167.82 L434.76,167.48 L436.96,167.15 L439.17,166.81 L441.37,166.48 L443.57,166.15 L445.77,165.82 L447.97,165.49 L450.17,165.16 L452.37,164.83 L454.57,164.50 L456.77,164.17 L458.97,163.85 L461.17,163.52 L463.37,163.20 L465.57,162.87 L467.78,162.55 L469.98,162.23 L472.18,161.91 L474.38,161.59 L476.58,161.27 L478.78,160.95 L480.98,160.63 L483.18,160.32 L485.38,160.00 L487.58,159.68 L489.78,159.37 L491.98,159.06 L494.19,158.74 L496.39,158.43 L498.59,158.12 L500.79,157.81 L502.99,157.50 L505.19,157.19 L507.39,156.88 L509.59,156.57 L511.79,156.26 L513.99,155.96 L516.19,155.65 L518.39,155.35 L520.60,155.04 L522.80,154.74 L525.00,154.44 L527.20,154.13 L529.40,153.83 L531.60,153.53 L533.80,153.23" stroke="#e9fbfa" stroke-width="9" fill="none" stroke-linecap="butt"/>
<path d="M93.64,238.60 L95.84,236.72 L98.04,234.93 L100.24,233.22 L102.44,231.58 L104.64,230.00 L106.84,228.47 L109.04,226.99 L111.24,225.55 L113.44,224.16 L115.65,222.80 L117.85,221.47 L120.05,220.18 L122.25,218.91 L124.45,217.68 L126.65,216.46 L128.85,215.28 L131.05,214.11 L133.25,212.97 L135.45,211.84 L137.65,210.74 L139.85,209.65 L142.06,208.58 L144.26,207.53 L146.46,206.49 L148.66,205.47 L150.86,204.46 L153.06,203.47 L155.26,202.48 L157.46,201.51 L159.66,200.56 L161.86,199.61 L164.06,198.68 L166.26,197.75 L168.47,196.84 L170.67,195.94 L172.87,195.05 L175.07,194.16 L177.27,193.29 L179.47,192.42 L181.67,191.56 L183.87,190.71 L186.07,189.87 L188.27,189.04 L190.47,188.21 L192.67,187.40 L194.87,186.58 L197.08,185.78 L199.28,184.98 L201.48,184.19 L203.68,183.41 L205.88,182.63 L208.08,181.86 L210.28,181.09 L212.48,180.33 L214.68,179.58 L216.88,178.83 L219.08,178.09 L221.28,177.35 L223.49,176.62 L225.69,175.89 L227.89,175.17 L230.09,174.45 L232.29,173.74 L234.49,173.03 L236.69,172.32 L238.89,171.62 L241.09,170.93 L243.29,170.24 L245.49,169.55 L247.69,168.87 L249.90,168.19 L252.10,167.52 L254.30,166.85 L256.50,166.18 L258.70,165.52 L260.90,164.86 L263.10,164.21 L265.30,163.56 L267.50,162.91 L269.70,162.27 L271.90,161.62 L274.10,160.99 L276.30,160.35 L278.51,159.72 L280.71,159.09 L282.91,158.47 L285.11,157.85 L287.31,157.23 L289.51,156.61 L291.71,156.00 L293.91,155.39 L296.11,154.79 L298.31,154.18 L300.51,153.58 L302.71,152.98 L304.92,152.39 L307.12,151.80 L309.32,151.21 L311.52,150.62 L313.72,150.03 L315.92,149.45 L318.12,148.87 L320.32,148.29 L322.52,147.72 L324.72,147.15 L326.92,146.58 L329.12,146.01 L331.33,145.44 L333.53,144.88 L335.73,144.32 L337.93,143.76 L340.13,143.20 L342.33,142.65 L344.53,142.10 L346.73,141.55 L348.93,141.00 L351.13,140.45 L353.33,139.91 L355.53,139.37 L357.74,138.83 L359.94,138.29 L362.14,137.75 L364.34,137.22 L366.54,136.69 L368.74,136.16 L370.94,135.63 L373.14,135.10 L375.34,134.58 L377.54,134.06 L379.74,133.54 L381.94,133.02 L384.14,132.50 L386.35,131.98 L388.55,131.47 L390.75,130.96 L392.95,130.45 L395.15,129.94 L397.35,129.43 L399.55,128.93 L401.75,128.42 L403.95,127.92 L406.15,127.42 L408.35,126.92 L410.55,126.42 L412.76,125.93 L414.96,125.43 L417.16,124.94 L419.36,124.45 L421.56,123.96 L423.76,123.47 L425.96,122.98 L428.16,122.49 L430.36,122.01 L432.56,121.53 L434.76,121.05 L436.96,120.57 L439.17,120.09 L441.37,119.61 L443.57,119.13 L445.77,118.66 L447.97,118.18 L450.17,117.71 L452.37,117.24 L454.57,116.77 L456.77,116.30 L458.97,115.84 L461.17,115.37 L463.37,114.91 L465.57,114.44 L467.78,113.98 L469.98,113.52 L472.18,113.06 L474.38,112.60 L476.58,112.15 L478.78,111.69 L480.98,111.24 L483.18,110.78 L485.38,110.33 L487.58,109.88 L489.78,109.43 L491.98,108.98 L494.19,108.53 L496.39,108.09 L498.59,107.64 L500.79,107.19 L502.99,106.75 L505.19,106.31 L507.39,105.87 L509.59,105.43 L511.79,104.99 L513.99,104.55 L516.19,104.11 L518.39,103.68 L520.60,103.24 L522.80,102.81 L525.00,102.37 L527.20,101.94 L529.40,101.51 L531.60,101.08 L533.80,100.65" stroke="#e9fbfa" stroke-width="9" fill="none" stroke-linecap="butt"/>
<path d="M93.64,229.07 L95.84,227.19 L98.04,225.42 L100.24,223.75 L102.44,222.17 L104.64,220.65 L106.84,219.20 L109.04,217.81 L111.24,216.46 L113.44,215.17 L115.65,213.91 L117.85,212.70 L120.05,211.52 L122.25,210.38 L124.45,209.26 L126.65,208.18 L128.85,207.12 L131.05,206.09 L133.25,205.08 L135.45,204.09 L137.65,203.12 L139.85,202.18 L142.06,201.25 L144.26,200.34 L146.46,199.45 L148.66,198.57 L150.86,197.71 L153.06,196.86 L155.26,196.02 L157.46,195.20 L159.66,194.40 L161.86,193.60 L164.06,192.82 L166.26,192.05 L168.47,191.28 L170.67,190.53 L172.87,189.79 L175.07,189.06 L177.27,188.34 L179.47,187.63 L181.67,186.92 L183.87,186.23 L186.07,185.54 L188.27,184.86 L190.47,184.19 L192.67,183.53 L194.87,182.87 L197.08,182.22 L199.28,181.58 L201.48,180.94 L203.68,180.31 L205.88,179.69 L208.08,179.07 L210.28,178.46 L212.48,177.86 L214.68,177.26 L216.88,176.66 L219.08,176.08 L221.28,175.49 L223.49,174.92 L225.69,174.34 L227.89,173.77 L230.09,173.21 L232.29,172.65 L234.49,172.10 L236.69,171.55 L238.89,171.00 L241.09,170.46 L243.29,169.93 L245.49,169.39 L247.69,168.87 L249.90,168.34 L252.10,167.82 L254.30,167.30 L256.50,166.79 L258.70,166.28 L260.90,165.78 L263.10,165.27 L265.30,164.77 L267.50,164.28 L269.70,163.79 L271.90,163.30 L274.10,162.81 L276.30,162.33 L278.51,161.85 L280.71,161.37 L282.91,160.90 L285.11,160.43 L287.31,159.96 L289.51,159.50 L291.71,159.04 L293.91,158.58 L296.11,158.12 L298.31,157.67 L300.51,157.22 L302.71,156.77 L304.92,156.32 L307.12,155.88 L309.32,155.44 L311.52,155.00 L313.72,154.56 L315.92,154.13 L318.12,153.70 L320.32,153.27 L322.52,152.84 L324.72,152.42 L326.92,152.00 L329.12,151.58 L331.33,151.16 L333.53,150.74 L335.73,150.33 L337.93,149.92 L340.13,149.51 L342.33,149.10 L344.53,148.70 L346.73,148.29 L348.93,147.89 L351.13,147.49 L353.33,147.09 L355.53,146.70 L357.74,146.30 L359.94,145.91 L362.14,145.52 L364.34,145.13 L366.54,144.74 L368.74,144.36 L370.94,143.97 L373.14,143.59 L375.34,143.21 L377.54,142.83 L379.74,142.45 L381.94,142.08 L384.14,141.70 L386.35,141.33 L388.55,140.96 L390.75,140.59 L392.95,140.22 L395.15,139.86 L397.35,139.49 L399.55,139.13 L401.75,138.77 L403.95,138.41 L406.15,138.05 L408.35,137.69 L410.55,137.33 L412.76,136.98 L414.96,136.63 L417.16,136.27 L419.36,135.92 L421.56,135.57 L423.76,135.23 L425.96,134.88 L428.16,134.53 L430.36,134.19 L432.56,133.85 L434.76,133.50 L436.96,133.16 L439.17,132.82 L441.37,132.49 L443.57,132.15 L445.77,131.81 L447.97,131.48 L450.17,131.14 L452.37,130.81 L454.57,130.48 L456.77,130.15 L458.97,129.82 L461.17,129.49 L463.37,129.17 L465.57,128.84 L467.78,128.52 L469.98,128.19 L472.18,127.87 L474.38,127.55 L476.58,127.23 L478.78,126.91 L480.98,126.59 L483.18,126.28 L485.38,125.96 L487.58,125.64 L489.78,125.33 L491.98,125.02 L494.19,124.71 L496.39,124.39 L498.59,124.08 L500.79,123.77 L502.99,123.47 L505.19,123.16 L507.39,122.85 L509.59,122.55 L511.79,122.24 L513.99,121.94 L516.19,121.63 L518.39,121.33 L520.60,121.03 L522.80,120.73 L525.00,120.43 L527.20,120.13 L529.40,119.84 L531.60,119.54 L533.80,119.24" stroke="#fcedf6" stroke-width="9" fill="none" stroke-linecap="butt"/>
<path d="M93.64,233.43 L95.84,231.53 L98.04,229.74 L100.24,228.03 L102.44,226.40 L104.64,224.84 L106.84,223.34 L109.04,221.89 L111.24,220.50 L113.44,219.14 L115.65,217.83 L117.85,216.55 L120.05,215.31 L122.25,214.11 L124.45,212.93 L126.65,211.77 L128.85,210.65 L131.05,209.55 L133.25,208.47 L135.45,207.41 L137.65,206.38 L139.85,205.36 L142.06,204.36 L144.26,203.38 L146.46,202.42 L148.66,201.47 L150.86,200.53 L153.06,199.62 L155.26,198.71 L157.46,197.82 L159.66,196.94 L161.86,196.07 L164.06,195.22 L166.26,194.37 L168.47,193.54 L170.67,192.71 L172.87,191.90 L175.07,191.10 L177.27,190.31 L179.47,189.52 L181.67,188.75 L183.87,187.98 L186.07,187.22 L188.27,186.47 L190.47,185.73 L192.67,184.99 L194.87,184.26 L197.08,183.54 L199.28,182.83 L201.48,182.12 L203.68,181.42 L205.88,180.73 L208.08,180.04 L210.28,179.36 L212.48,178.68 L214.68,178.01 L216.88,177.35 L219.08,176.69 L221.28,176.03 L223.49,175.38 L225.69,174.74 L227.89,174.10 L230.09,173.47 L232.29,172.84 L234.49,172.22 L236.69,171.60 L238.89,170.98 L241.09,170.37 L243.29,169.77 L245.49,169.17 L247.69,168.57 L249.90,167.98 L252.10,167.39 L254.30,166.80 L256.50,166.22 L258.70,165.64 L260.90,165.07 L263.10,164.50 L265.30,163.93 L267.50,163.37 L269.70,162.81 L271.90,162.25 L274.10,161.70 L276.30,161.15 L278.51,160.60 L280.71,160.06 L282.91,159.52 L285.11,158.98 L287.31,158.45 L289.51,157.92 L291.71,157.39 L293.91,156.87 L296.11,156.34 L298.31,155.82 L300.51,155.31 L302.71,154.79 L304.92,154.28 L307.12,153.77 L309.32,153.27 L311.52,152.76 L313.72,152.26 L315.92,151.76 L318.12,151.27 L320.32,150.77 L322.52,150.28 L324.72,149.79 L326.92,149.30 L329.12,148.82 L331.33,148.34 L333.53,147.86 L335.73,147.38 L337.93,146.90 L340.13,146.43 L342.33,145.96 L344.53,145.49 L346.73,145.02 L348.93,144.56 L351.13,144.09 L353.33,143.63 L355.53,143.17 L357.74,142.72 L359.94,142.26 L362.14,141.81 L364.34,141.36 L366.54,140.91 L368.74,140.46 L370.94,140.01 L373.14,139.57 L375.34,139.12 L377.54,138.68 L379.74,138.24 L381.94,137.81 L384.14,137.37 L386.35,136.94 L388.55,136.50 L390.75,136.07 L392.95,135.64 L395.15,135.22 L397.35,134.79 L399.55,134.37 L401.75,133.94 L403.95,133.52 L406.15,133.10 L408.35,132.68 L410.55,132.27 L412.76,131.85 L414.96,131.44 L417.16,131.03 L419.36,130.61 L421.56,130.20 L423.76,129.80 L425.96,129.39 L428.16,128.98 L430.36,128.58 L432.56,128.18 L434.76,127.78 L436.96,127.38 L439.17,126.98 L441.37,126.58 L443.57,126.18 L445.77,125.79 L447.97,125.39 L450.17,125.00 L452.37,124.61 L454.57,124.22 L456.77,123.83 L458.97,123.44 L461.17,123.06 L463.37,122.67 L465.57,122.29 L467.78,121.91 L469.98,121.52 L472.18,121.14 L474.38,120.76 L476.58,120.39 L478.78,120.01 L480.98,119.63 L483.18,119.26 L485.38,118.88 L487.58,118.51 L489.78,118.14 L491.98,117.77 L494.19,117.40 L496.39,117.03 L498.59,116.66 L500.79,116.30 L502.99,115.93 L505.19,115.57 L507.39,115.20 L509.59,114.84 L511.79,114.48 L513.99,114.12 L516.19,113.76 L518.39,113.40 L520.60,113.04 L522.80,112.69 L525.00,112.33 L527.20,111.98 L529.40,111.62 L531.60,111.27 L533.80,110.92" stroke="#fcedf6" stroke-width="9" fill="none" stroke-linecap="butt"/>
<path d="M93.64,233.72 L95.84,231.52 L98.04,229.43 L100.24,227.42 L102.44,225.49 L104.64,223.63 L106.84,221.84 L109.04,220.10 L111.24,218.41 L113.44,216.76 L115.65,215.16 L117.85,213.60 L120.05,212.08 L122.25,210.58 L124.45,209.12 L126.65,207.69 L128.85,206.29 L131.05,204.92 L133.25,203.57 L135.45,202.24 L137.65,200.93 L139.85,199.65 L142.06,198.38 L144.26,197.14 L146.46,195.91 L148.66,194.70 L150.86,193.50 L153.06,192.33 L155.26,191.16 L157.46,190.02 L159.66,188.88 L161.86,187.76 L164.06,186.65 L166.26,185.56 L168.47,184.48 L170.67,183.41 L172.87,182.35 L175.07,181.30 L177.27,180.26 L179.47,179.23 L181.67,178.21 L183.87,177.21 L186.07,176.21 L188.27,175.22 L190.47,174.24 L192.67,173.27 L194.87,172.30 L197.08,171.35 L199.28,170.40 L201.48,169.46 L203.68,168.53 L205.88,167.60 L208.08,166.68 L210.28,165.77 L212.48,164.87 L214.68,163.97 L216.88,163.08 L219.08,162.20 L221.28,161.32 L223.49,160.45 L225.69,159.58 L227.89,158.72 L230.09,157.87 L232.29,157.02 L234.49,156.17 L236.69,155.34 L238.89,154.50 L241.09,153.68 L243.29,152.85 L245.49,152.04 L247.69,151.22 L249.90,150.42 L252.10,149.61 L254.30,148.81 L256.50,148.02 L258.70,147.23 L260.90,146.45 L263.10,145.66 L265.30,144.89 L267.50,144.12 L269.70,143.35 L271.90,142.58 L274.10,141.82 L276.30,141.07 L278.51,140.31 L280.71,139.56 L282.91,138.82 L285.11,138.08 L287.31,137.34 L289.51,136.61 L291.71,135.87 L293.91,135.15 L296.11,134.42 L298.31,133.70 L300.51,132.98 L302.71,132.27 L304.92,131.56 L307.12,130.85 L309.32,130.15 L311.52,129.44 L313.72,128.75 L315.92,128.05 L318.12,127.36 L320.32,126.67 L322.52,125.98 L324.72,125.30 L326.92,124.61 L329.12,123.94 L331.33,123.26 L333.53,122.59 L335.73,121.92 L337.93,121.25 L340.13,120.58 L342.33,119.92 L344.53,119.26 L346.73,118.60 L348.93,117.95 L351.13,117.29 L353.33,116.64 L355.53,116.00 L357.74,115.35 L359.94,114.71 L362.14,114.07 L364.34,113.43 L366.54,112.79 L368.74,112.16 L370.94,111.52 L373.14,110.89 L375.34,110.27 L377.54,109.64 L379.74,109.02 L381.94,108.39 L384.14,107.78 L386.35,107.16 L388.55,106.54 L390.75,105.93 L392.95,105.32 L395.15,104.71 L397.35,104.10 L399.55,103.50 L401.75,102.89 L403.95,102.29 L406.15,101.69 L408.35,101.09 L410.55,100.50 L412.76,99.90 L414.96,99.31 L417.16,98.72 L419.36,98.13 L421.56,97.54 L423.76,96.96 L425.96,96.37 L428.16,95.79 L430.36,95.21 L432.56,94.63 L434.76,94.05 L436.96,93.48 L439.17,92.90 L441.37,92.33 L443.57,91.76 L445.77,91.19 L447.97,90.62 L450.17,90.06 L452.37,89.49 L454.57,88.93 L456.77,88.37 L458.97,87.81 L461.17,87.25 L463.37,86.69 L465.57,86.14 L467.78,85.58 L469.98,85.03 L472.18,84.48 L474.38,83.93 L476.58,83.38 L478.78,82.84 L480.98,82.29 L483.18,81.75 L485.38,81.20 L487.58,80.66 L489.78,80.12 L491.98,79.58 L494.19,79.05 L496.39,78.51 L498.59,77.97 L500.79,77.44 L502.99,76.91 L505.19,76.38 L507.39,75.85 L509.59,75.32 L511.79,74.79 L513.99,74.27 L516.19,73.74 L518.39,73.22 L520.60,72.69 L522.80,72.17 L525.00,71.65 L527.20,71.13 L529.40,70.62 L531.60,70.10 L533.80,69.59" stroke="#fcedf6" stroke-width="9" fill="none" stroke-linecap="butt"/>
<path d="M93.64,248.93 L95.84,247.65 L98.04,246.42 L100.24,245.25 L102.44,244.13 L104.64,243.04 L106.84,241.99 L109.04,240.97 L111.24,239.99 L113.44,239.03 L115.65,238.09 L117.85,237.18 L120.05,236.29 L122.25,235.42 L124.45,234.57 L126.65,233.73 L128.85,232.92 L131.05,232.11 L133.25,231.32 L135.45,230.55 L137.65,229.79 L139.85,229.04 L142.06,228.30 L144.26,227.57 L146.46,226.86 L148.66,226.15 L150.86,225.45 L153.06,224.77 L155.26,224.09 L157.46,223.42 L159.66,222.76 L161.86,222.10 L164.06,221.46 L166.26,220.82 L168.47,220.19 L170.67,219.56 L172.87,218.94 L175.07,218.33 L177.27,217.73 L179.47,217.13 L181.67,216.53 L183.87,215.95 L186.07,215.36 L188.27,214.79 L190.47,214.22 L192.67,213.65 L194.87,213.09 L197.08,212.53 L199.28,211.98 L201.48,211.43 L203.68,210.89 L205.88,210.35 L208.08,209.81 L210.28,209.28 L212.48,208.75 L214.68,208.23 L216.88,207.71 L219.08,207.19 L221.28,206.68 L223.49,206.17 L225.69,205.67 L227.89,205.17 L230.09,204.67 L232.29,204.18 L234.49,203.68 L236.69,203.20 L238.89,202.71 L241.09,202.23 L243.29,201.75 L245.49,201.27 L247.69,200.80 L249.90,200.33 L252.10,199.86 L254.30,199.39 L256.50,198.93 L258.70,198.47 L260.90,198.01 L263.10,197.56 L265.30,197.10 L267.50,196.65 L269.70,196.21 L271.90,195.76 L274.10,195.32 L276.30,194.88 L278.51,194.44 L280.71,194.00 L282.91,193.57 L285.11,193.13 L287.31,192.70 L289.51,192.28 L291.71,191.85 L293.91,191.43 L296.11,191.00 L298.31,190.58 L300.51,190.17 L302.71,189.75 L304.92,189.34 L307.12,188.92 L309.32,188.51 L311.52,188.10 L313.72,187.70 L315.92,187.29 L318.12,186.89 L320.32,186.49 L322.52,186.08 L324.72,185.69 L326.92,185.29 L329.12,184.89 L331.33,184.50 L333.53,184.11 L335.73,183.72 L337.93,183.33 L340.13,182.94 L342.33,182.55 L344.53,182.17 L346.73,181.79 L348.93,181.40 L351.13,181.02 L353.33,180.64 L355.53,180.27 L357.74,179.89 L359.94,179.52 L362.14,179.14 L364.34,178.77 L366.54,178.40 L368.74,178.03 L370.94,177.66 L373.14,177.29 L375.34,176.93 L377.54,176.56 L379.74,176.20 L381.94,175.84 L384.14,175.48 L386.35,175.12 L388.55,174.76 L390.75,174.40 L392.95,174.05 L395.15,173.69 L397.35,173.34 L399.55,172.98 L401.75,172.63 L403.95,172.28 L406.15,171.93 L408.35,171.58 L410.55,171.24 L412.76,170.89 L414.96,170.55 L417.16,170.20 L419.36,169.86 L421.56,169.52 L423.76,169.17 L425.96,168.83 L428.16,168.50 L430.36,168.16 L432.56,167.82 L434.76,167.48 L436.96,167.15 L439.17,166.81 L441.37,166.48 L443.57,166.15 L445.77,165.82 L447.97,165.49 L450.17,165.16 L452.37,164.83 L454.57,164.50 L456.77,164.17 L458.97,163.85 L461.17,163.52 L463.37,163.20 L465.57,162.87 L467.78,162.55 L469.98,162.23 L472.18,161.91 L474.38,161.59 L476.58,161.27 L478.78,160.95 L480.98,160.63 L483.18,160.32 L485.38,160.00 L487.58,159.68 L489.78,159.37 L491.98,159.06 L494.19,158.74 L496.39,158.43 L498.59,158.12 L500.79,157.81 L502.99,157.50 L505.19,157.19 L507.39,156.88 L509.59,156.57 L511.79,156.26 L513.99,155.96 L516.19,155.65 L518.39,155.35 L520.60,155.04 L522.80,154.74 L525.00,154.44 L527.20,154.13 L529.40,153.83 L531.60,153.53 L533.80,153.23" stroke="#3f7a45" stroke-width="2.5" fill="none" stroke-dasharray="0.01 5.11" stroke-dashoffset="-0.4" stroke-linecap="round"/>
<path d="M93.64,238.60 L95.84,236.72 L98.04,234.93 L100.24,233.22 L102.44,231.58 L104.64,230.00 L106.84,228.47 L109.04,226.99 L111.24,225.55 L113.44,224.16 L115.65,222.80 L117.85,221.47 L120.05,220.18 L122.25,218.91 L124.45,217.68 L126.65,216.46 L128.85,215.28 L131.05,214.11 L133.25,212.97 L135.45,211.84 L137.65,210.74 L139.85,209.65 L142.06,208.58 L144.26,207.53 L146.46,206.49 L148.66,205.47 L150.86,204.46 L153.06,203.47 L155.26,202.48 L157.46,201.51 L159.66,200.56 L161.86,199.61 L164.06,198.68 L166.26,197.75 L168.47,196.84 L170.67,195.94 L172.87,195.05 L175.07,194.16 L177.27,193.29 L179.47,192.42 L181.67,191.56 L183.87,190.71 L186.07,189.87 L188.27,189.04 L190.47,188.21 L192.67,187.40 L194.87,186.58 L197.08,185.78 L199.28,184.98 L201.48,184.19 L203.68,183.41 L205.88,182.63 L208.08,181.86 L210.28,181.09 L212.48,180.33 L214.68,179.58 L216.88,178.83 L219.08,178.09 L221.28,177.35 L223.49,176.62 L225.69,175.89 L227.89,175.17 L230.09,174.45 L232.29,173.74 L234.49,173.03 L236.69,172.32 L238.89,171.62 L241.09,170.93 L243.29,170.24 L245.49,169.55 L247.69,168.87 L249.90,168.19 L252.10,167.52 L254.30,166.85 L256.50,166.18 L258.70,165.52 L260.90,164.86 L263.10,164.21 L265.30,163.56 L267.50,162.91 L269.70,162.27 L271.90,161.62 L274.10,160.99 L276.30,160.35 L278.51,159.72 L280.71,159.09 L282.91,158.47 L285.11,157.85 L287.31,157.23 L289.51,156.61 L291.71,156.00 L293.91,155.39 L296.11,154.79 L298.31,154.18 L300.51,153.58 L302.71,152.98 L304.92,152.39 L307.12,151.80 L309.32,151.21 L311.52,150.62 L313.72,150.03 L315.92,149.45 L318.12,148.87 L320.32,148.29 L322.52,147.72 L324.72,147.15 L326.92,146.58 L329.12,146.01 L331.33,145.44 L333.53,144.88 L335.73,144.32 L337.93,143.76 L340.13,143.20 L342.33,142.65 L344.53,142.10 L346.73,141.55 L348.93,141.00 L351.13,140.45 L353.33,139.91 L355.53,139.37 L357.74,138.83 L359.94,138.29 L362.14,137.75 L364.34,137.22 L366.54,136.69 L368.74,136.16 L370.94,135.63 L373.14,135.10 L375.34,134.58 L377.54,134.06 L379.74,133.54 L381.94,133.02 L384.14,132.50 L386.35,131.98 L388.55,131.47 L390.75,130.96 L392.95,130.45 L395.15,129.94 L397.35,129.43 L399.55,128.93 L401.75,128.42 L403.95,127.92 L406.15,127.42 L408.35,126.92 L410.55,126.42 L412.76,125.93 L414.96,125.43 L417.16,124.94 L419.36,124.45 L421.56,123.96 L423.76,123.47 L425.96,122.98 L428.16,122.49 L430.36,122.01 L432.56,121.53 L434.76,121.05 L436.96,120.57 L439.17,120.09 L441.37,119.61 L443.57,119.13 L445.77,118.66 L447.97,118.18 L450.17,117.71 L452.37,117.24 L454.57,116.77 L456.77,116.30 L458.97,115.84 L461.17,115.37 L463.37,114.91 L465.57,114.44 L467.78,113.98 L469.98,113.52 L472.18,113.06 L474.38,112.60 L476.58,112.15 L478.78,111.69 L480.98,111.24 L483.18,110.78 L485.38,110.33 L487.58,109.88 L489.78,109.43 L491.98,108.98 L494.19,108.53 L496.39,108.09 L498.59,107.64 L500.79,107.19 L502.99,106.75 L505.19,106.31 L507.39,105.87 L509.59,105.43 L511.79,104.99 L513.99,104.55 L516.19,104.11 L518.39,103.68 L520.60,103.24 L522.80,102.81 L525.00,102.37 L527.20,101.94 L529.40,101.51 L531.60,101.08 L533.80,100.65" stroke="#3a4ca8" stroke-width="2.5" fill="none" stroke-dasharray="0.01 5.11" stroke-dashoffset="-0.4" stroke-linecap="round"/>
<path d="M93.64,233.72 L95.84,231.52 L98.04,229.43 L100.24,227.42 L102.44,225.49 L104.64,223.63 L106.84,221.84 L109.04,220.10 L111.24,218.41 L113.44,216.76 L115.65,215.16 L117.85,213.60 L120.05,212.08 L122.25,210.58 L124.45,209.12 L126.65,207.69 L128.85,206.29 L131.05,204.92 L133.25,203.57 L135.45,202.24 L137.65,200.93 L139.85,199.65 L142.06,198.38 L144.26,197.14 L146.46,195.91 L148.66,194.70 L150.86,193.50 L153.06,192.33 L155.26,191.16 L157.46,190.02 L159.66,188.88 L161.86,187.76 L164.06,186.65 L166.26,185.56 L168.47,184.48 L170.67,183.41 L172.87,182.35 L175.07,181.30 L177.27,180.26 L179.47,179.23 L181.67,178.21 L183.87,177.21 L186.07,176.21 L188.27,175.22 L190.47,174.24 L192.67,173.27 L194.87,172.30 L197.08,171.35 L199.28,170.40 L201.48,169.46 L203.68,168.53 L205.88,167.60 L208.08,166.68 L210.28,165.77 L212.48,164.87 L214.68,163.97 L216.88,163.08 L219.08,162.20 L221.28,161.32 L223.49,160.45 L225.69,159.58 L227.89,158.72 L230.09,157.87 L232.29,157.02 L234.49,156.17 L236.69,155.34 L238.89,154.50 L241.09,153.68 L243.29,152.85 L245.49,152.04 L247.69,151.22 L249.90,150.42 L252.10,149.61 L254.30,148.81 L256.50,148.02 L258.70,147.23 L260.90,146.45 L263.10,145.66 L265.30,144.89 L267.50,144.12 L269.70,143.35 L271.90,142.58 L274.10,141.82 L276.30,141.07 L278.51,140.31 L280.71,139.56 L282.91,138.82 L285.11,138.08 L287.31,137.34 L289.51,136.61 L291.71,135.87 L293.91,135.15 L296.11,134.42 L298.31,133.70 L300.51,132.98 L302.71,132.27 L304.92,131.56 L307.12,130.85 L309.32,130.15 L311.52,129.44 L313.72,128.75 L315.92,128.05 L318.12,127.36 L320.32,126.67 L322.52,125.98 L324.72,125.30 L326.92,124.61 L329.12,123.94 L331.33,123.26 L333.53,122.59 L335.73,121.92 L337.93,121.25 L340.13,120.58 L342.33,119.92 L344.53,119.26 L346.73,118.60 L348.93,117.95 L351.13,117.29 L353.33,116.64 L355.53,116.00 L357.74,115.35 L359.94,114.71 L362.14,114.07 L364.34,113.43 L366.54,112.79 L368.74,112.16 L370.94,111.52 L373.14,110.89 L375.34,110.27 L377.54,109.64 L379.74,109.02 L381.94,108.39 L384.14,107.78 L386.35,107.16 L388.55,106.54 L390.75,105.93 L392.95,105.32 L395.15,104.71 L397.35,104.10 L399.55,103.50 L401.75,102.89 L403.95,102.29 L406.15,101.69 L408.35,101.09 L410.55,100.50 L412.76,99.90 L414.96,99.31 L417.16,98.72 L419.36,98.13 L421.56,97.54 L423.76,96.96 L425.96,96.37 L428.16,95.79 L430.36,95.21 L432.56,94.63 L434.76,94.05 L436.96,93.48 L439.17,92.90 L441.37,92.33 L443.57,91.76 L445.77,91.19 L447.97,90.62 L450.17,90.06 L452.37,89.49 L454.57,88.93 L456.77,88.37 L458.97,87.81 L461.17,87.25 L463.37,86.69 L465.57,86.14 L467.78,85.58 L469.98,85.03 L472.18,84.48 L474.38,83.93 L476.58,83.38 L478.78,82.84 L480.98,82.29 L483.18,81.75 L485.38,81.20 L487.58,80.66 L489.78,80.12 L491.98,79.58 L494.19,79.05 L496.39,78.51 L498.59,77.97 L500.79,77.44 L502.99,76.91 L505.19,76.38 L507.39,75.85 L509.59,75.32 L511.79,74.79 L513.99,74.27 L516.19,73.74 L518.39,73.22 L520.60,72.69 L522.80,72.17 L525.00,71.65 L527.20,71.13 L529.40,70.62 L531.60,70.10 L533.80,69.59" stroke="#7a3f22" stroke-width="2.5" fill="none" stroke-dasharray="0.01 5.11" stroke-dashoffset="-0.4" stroke-linecap="round"/>
<path d="M93.64,247.91 L95.84,246.80 L98.04,245.74 L100.24,244.74 L102.44,243.79 L104.64,242.88 L106.84,242.00 L109.04,241.16 L111.24,240.34 L113.44,239.55 L115.65,238.79 L117.85,238.05 L120.05,237.33 L122.25,236.62 L124.45,235.94 L126.65,235.27 L128.85,234.62 L131.05,233.98 L133.25,233.36 L135.45,232.75 L137.65,232.15 L139.85,231.56 L142.06,230.98 L144.26,230.42 L146.46,229.86 L148.66,229.31 L150.86,228.78 L153.06,228.25 L155.26,227.72 L157.46,227.21 L159.66,226.71 L161.86,226.21 L164.06,225.71 L166.26,225.23 L168.47,224.75 L170.67,224.28 L172.87,223.81 L175.07,223.35 L177.27,222.89 L179.47,222.44 L181.67,222.00 L183.87,221.56 L186.07,221.12 L188.27,220.69 L190.47,220.27 L192.67,219.85 L194.87,219.43 L197.08,219.02 L199.28,218.61 L201.48,218.20 L203.68,217.80 L205.88,217.41 L208.08,217.01 L210.28,216.62 L212.48,216.24 L214.68,215.86 L216.88,215.48 L219.08,215.10 L221.28,214.73 L223.49,214.36 L225.69,213.99 L227.89,213.63 L230.09,213.27 L232.29,212.91 L234.49,212.55 L236.69,212.20 L238.89,211.85 L241.09,211.50 L243.29,211.16 L245.49,210.81 L247.69,210.47 L249.90,210.14 L252.10,209.80 L254.30,209.47 L256.50,209.14 L258.70,208.81 L260.90,208.48 L263.10,208.16 L265.30,207.84 L267.50,207.52 L269.70,207.20 L271.90,206.88 L274.10,206.57 L276.30,206.25 L278.51,205.94 L280.71,205.64 L282.91,205.33 L285.11,205.02 L287.31,204.72 L289.51,204.42 L291.71,204.12 L293.91,203.82 L296.11,203.53 L298.31,203.23 L300.51,202.94 L302.71,202.65 L304.92,202.36 L307.12,202.07 L309.32,201.78 L311.52,201.50 L313.72,201.21 L315.92,200.93 L318.12,200.65 L320.32,200.37 L322.52,200.09 L324.72,199.81 L326.92,199.54 L329.12,199.26 L331.33,198.99 L333.53,198.72 L335.73,198.45 L337.93,198.18 L340.13,197.91 L342.33,197.64 L344.53,197.38 L346.73,197.11 L348.93,196.85 L351.13,196.59 L353.33,196.33 L355.53,196.07 L357.74,195.81 L359.94,195.55 L362.14,195.30 L364.34,195.04 L366.54,194.79 L368.74,194.53 L370.94,194.28 L373.14,194.03 L375.34,193.78 L377.54,193.53 L379.74,193.28 L381.94,193.04 L384.14,192.79 L386.35,192.55 L388.55,192.30 L390.75,192.06 L392.95,191.82 L395.15,191.58 L397.35,191.34 L399.55,191.10 L401.75,190.86 L403.95,190.62 L406.15,190.38 L408.35,190.15 L410.55,189.91 L412.76,189.68 L414.96,189.45 L417.16,189.21 L419.36,188.98 L421.56,188.75 L423.76,188.52 L425.96,188.29 L428.16,188.06 L430.36,187.84 L432.56,187.61 L434.76,187.38 L436.96,187.16 L439.17,186.93 L441.37,186.71 L443.57,186.49 L445.77,186.26 L447.97,186.04 L450.17,185.82 L452.37,185.60 L454.57,185.38 L456.77,185.16 L458.97,184.95 L461.17,184.73 L463.37,184.51 L465.57,184.30 L467.78,184.08 L469.98,183.87 L472.18,183.65 L474.38,183.44 L476.58,183.23 L478.78,183.01 L480.98,182.80 L483.18,182.59 L485.38,182.38 L487.58,182.17 L489.78,181.96 L491.98,181.75 L494.19,181.55 L496.39,181.34 L498.59,181.13 L500.79,180.93 L502.99,180.72 L505.19,180.52 L507.39,180.31 L509.59,180.11 L511.79,179.91 L513.99,179.70 L516.19,179.50 L518.39,179.30 L520.60,179.10 L522.80,178.90 L525.00,178.70 L527.20,178.50 L529.40,178.30 L531.60,178.11 L533.80,177.91" stroke="#3a8543" stroke-width="2.55" fill="none" stroke-dasharray="9.7 8.15"/>
<path d="M93.64,238.45 L95.84,236.84 L98.04,235.32 L100.24,233.87 L102.44,232.49 L104.64,231.17 L106.84,229.90 L109.04,228.68 L111.24,227.50 L113.44,226.36 L115.65,225.25 L117.85,224.17 L120.05,223.13 L122.25,222.11 L124.45,221.11 L126.65,220.14 L128.85,219.19 L131.05,218.27 L133.25,217.36 L135.45,216.47 L137.65,215.60 L139.85,214.74 L142.06,213.90 L144.26,213.08 L146.46,212.27 L148.66,211.47 L150.86,210.69 L153.06,209.92 L155.26,209.16 L157.46,208.41 L159.66,207.67 L161.86,206.94 L164.06,206.22 L166.26,205.52 L168.47,204.82 L170.67,204.13 L172.87,203.45 L175.07,202.77 L177.27,202.11 L179.47,201.45 L181.67,200.80 L183.87,200.16 L186.07,199.52 L188.27,198.90 L190.47,198.27 L192.67,197.66 L194.87,197.05 L197.08,196.45 L199.28,195.85 L201.48,195.26 L203.68,194.67 L205.88,194.09 L208.08,193.52 L210.28,192.95 L212.48,192.38 L214.68,191.82 L216.88,191.27 L219.08,190.71 L221.28,190.17 L223.49,189.63 L225.69,189.09 L227.89,188.56 L230.09,188.03 L232.29,187.50 L234.49,186.98 L236.69,186.47 L238.89,185.95 L241.09,185.44 L243.29,184.94 L245.49,184.44 L247.69,183.94 L249.90,183.44 L252.10,182.95 L254.30,182.46 L256.50,181.98 L258.70,181.50 L260.90,181.02 L263.10,180.54 L265.30,180.07 L267.50,179.60 L269.70,179.14 L271.90,178.67 L274.10,178.21 L276.30,177.75 L278.51,177.30 L280.71,176.84 L282.91,176.39 L285.11,175.95 L287.31,175.50 L289.51,175.06 L291.71,174.62 L293.91,174.18 L296.11,173.75 L298.31,173.31 L300.51,172.88 L302.71,172.46 L304.92,172.03 L307.12,171.61 L309.32,171.19 L311.52,170.77 L313.72,170.35 L315.92,169.93 L318.12,169.52 L320.32,169.11 L322.52,168.70 L324.72,168.29 L326.92,167.89 L329.12,167.49 L331.33,167.09 L333.53,166.69 L335.73,166.29 L337.93,165.89 L340.13,165.50 L342.33,165.11 L344.53,164.72 L346.73,164.33 L348.93,163.94 L351.13,163.56 L353.33,163.17 L355.53,162.79 L357.74,162.41 L359.94,162.03 L362.14,161.66 L364.34,161.28 L366.54,160.91 L368.74,160.54 L370.94,160.16 L373.14,159.80 L375.34,159.43 L377.54,159.06 L379.74,158.70 L381.94,158.33 L384.14,157.97 L386.35,157.61 L388.55,157.25 L390.75,156.89 L392.95,156.54 L395.15,156.18 L397.35,155.83 L399.55,155.48 L401.75,155.13 L403.95,154.78 L406.15,154.43 L408.35,154.08 L410.55,153.73 L412.76,153.39 L414.96,153.05 L417.16,152.70 L419.36,152.36 L421.56,152.02 L423.76,151.68 L425.96,151.35 L428.16,151.01 L430.36,150.68 L432.56,150.34 L434.76,150.01 L436.96,149.68 L439.17,149.35 L441.37,149.02 L443.57,148.69 L445.77,148.36 L447.97,148.03 L450.17,147.71 L452.37,147.38 L454.57,147.06 L456.77,146.74 L458.97,146.42 L461.17,146.10 L463.37,145.78 L465.57,145.46 L467.78,145.14 L469.98,144.82 L472.18,144.51 L474.38,144.20 L476.58,143.88 L478.78,143.57 L480.98,143.26 L483.18,142.95 L485.38,142.64 L487.58,142.33 L489.78,142.02 L491.98,141.71 L494.19,141.41 L496.39,141.10 L498.59,140.80 L500.79,140.49 L502.99,140.19 L505.19,139.89 L507.39,139.59 L509.59,139.29 L511.79,138.99 L513.99,138.69 L516.19,138.39 L518.39,138.10 L520.60,137.80 L522.80,137.50 L525.00,137.21 L527.20,136.92 L529.40,136.62 L531.60,136.33 L533.80,136.04" stroke="#3448a8" stroke-width="2.55" fill="none" stroke-dasharray="9.7 8.15"/>
<path d="M93.64,233.43 L95.84,231.53 L98.04,229.74 L100.24,228.03 L102.44,226.40 L104.64,224.84 L106.84,223.34 L109.04,221.89 L111.24,220.50 L113.44,219.14 L115.65,217.83 L117.85,216.55 L120.05,215.31 L122.25,214.11 L124.45,212.93 L126.65,211.77 L128.85,210.65 L131.05,209.55 L133.25,208.47 L135.45,207.41 L137.65,206.38 L139.85,205.36 L142.06,204.36 L144.26,203.38 L146.46,202.42 L148.66,201.47 L150.86,200.53 L153.06,199.62 L155.26,198.71 L157.46,197.82 L159.66,196.94 L161.86,196.07 L164.06,195.22 L166.26,194.37 L168.47,193.54 L170.67,192.71 L172.87,191.90 L175.07,191.10 L177.27,190.31 L179.47,189.52 L181.67,188.75 L183.87,187.98 L186.07,187.22 L188.27,186.47 L190.47,185.73 L192.67,184.99 L194.87,184.26 L197.08,183.54 L199.28,182.83 L201.48,182.12 L203.68,181.42 L205.88,180.73 L208.08,180.04 L210.28,179.36 L212.48,178.68 L214.68,178.01 L216.88,177.35 L219.08,176.69 L221.28,176.03 L223.49,175.38 L225.69,174.74 L227.89,174.10 L230.09,173.47 L232.29,172.84 L234.49,172.22 L236.69,171.60 L238.89,170.98 L241.09,170.37 L243.29,169.77 L245.49,169.17 L247.69,168.57 L249.90,167.98 L252.10,167.39 L254.30,166.80 L256.50,166.22 L258.70,165.64 L260.90,165.07 L263.10,164.50 L265.30,163.93 L267.50,163.37 L269.70,162.81 L271.90,162.25 L274.10,161.70 L276.30,161.15 L278.51,160.60 L280.71,160.06 L282.91,159.52 L285.11,158.98 L287.31,158.45 L289.51,157.92 L291.71,157.39 L293.91,156.87 L296.11,156.34 L298.31,155.82 L300.51,155.31 L302.71,154.79 L304.92,154.28 L307.12,153.77 L309.32,153.27 L311.52,152.76 L313.72,152.26 L315.92,151.76 L318.12,151.27 L320.32,150.77 L322.52,150.28 L324.72,149.79 L326.92,149.30 L329.12,148.82 L331.33,148.34 L333.53,147.86 L335.73,147.38 L337.93,146.90 L340.13,146.43 L342.33,145.96 L344.53,145.49 L346.73,145.02 L348.93,144.56 L351.13,144.09 L353.33,143.63 L355.53,143.17 L357.74,142.72 L359.94,142.26 L362.14,141.81 L364.34,141.36 L366.54,140.91 L368.74,140.46 L370.94,140.01 L373.14,139.57 L375.34,139.12 L377.54,138.68 L379.74,138.24 L381.94,137.81 L384.14,137.37 L386.35,136.94 L388.55,136.50 L390.75,136.07 L392.95,135.64 L395.15,135.22 L397.35,134.79 L399.55,134.37 L401.75,133.94 L403.95,133.52 L406.15,133.10 L408.35,132.68 L410.55,132.27 L412.76,131.85 L414.96,131.44 L417.16,131.03 L419.36,130.61 L421.56,130.20 L423.76,129.80 L425.96,129.39 L428.16,128.98 L430.36,128.58 L432.56,128.18 L434.76,127.78 L436.96,127.38 L439.17,126.98 L441.37,126.58 L443.57,126.18 L445.77,125.79 L447.97,125.39 L450.17,125.00 L452.37,124.61 L454.57,124.22 L456.77,123.83 L458.97,123.44 L461.17,123.06 L463.37,122.67 L465.57,122.29 L467.78,121.91 L469.98,121.52 L472.18,121.14 L474.38,120.76 L476.58,120.39 L478.78,120.01 L480.98,119.63 L483.18,119.26 L485.38,118.88 L487.58,118.51 L489.78,118.14 L491.98,117.77 L494.19,117.40 L496.39,117.03 L498.59,116.66 L500.79,116.30 L502.99,115.93 L505.19,115.57 L507.39,115.20 L509.59,114.84 L511.79,114.48 L513.99,114.12 L516.19,113.76 L518.39,113.40 L520.60,113.04 L522.80,112.69 L525.00,112.33 L527.20,111.98 L529.40,111.62 L531.60,111.27 L533.80,110.92" stroke="#9c3f1b" stroke-width="2.55" fill="none" stroke-dasharray="9.7 8.15"/>
<path d="M93.64,247.84 L95.84,246.79 L98.04,245.80 L100.24,244.86 L102.44,243.97 L104.64,243.11 L106.84,242.29 L109.04,241.51 L111.24,240.75 L113.44,240.02 L115.65,239.31 L117.85,238.62 L120.05,237.96 L122.25,237.31 L124.45,236.68 L126.65,236.07 L128.85,235.47 L131.05,234.88 L133.25,234.31 L135.45,233.75 L137.65,233.20 L139.85,232.66 L142.06,232.13 L144.26,231.61 L146.46,231.11 L148.66,230.61 L150.86,230.12 L153.06,229.63 L155.26,229.16 L157.46,228.69 L159.66,228.23 L161.86,227.78 L164.06,227.33 L166.26,226.89 L168.47,226.46 L170.67,226.03 L172.87,225.61 L175.07,225.19 L177.27,224.78 L179.47,224.37 L181.67,223.97 L183.87,223.57 L186.07,223.18 L188.27,222.79 L190.47,222.41 L192.67,222.03 L194.87,221.65 L197.08,221.28 L199.28,220.91 L201.48,220.55 L203.68,220.19 L205.88,219.83 L208.08,219.48 L210.28,219.13 L212.48,218.78 L214.68,218.44 L216.88,218.10 L219.08,217.76 L221.28,217.43 L223.49,217.10 L225.69,216.77 L227.89,216.44 L230.09,216.12 L232.29,215.80 L234.49,215.48 L236.69,215.17 L238.89,214.85 L241.09,214.54 L243.29,214.24 L245.49,213.93 L247.69,213.63 L249.90,213.32 L252.10,213.03 L254.30,212.73 L256.50,212.43 L258.70,212.14 L260.90,211.85 L263.10,211.56 L265.30,211.28 L267.50,210.99 L269.70,210.71 L271.90,210.43 L274.10,210.15 L276.30,209.87 L278.51,209.59 L280.71,209.32 L282.91,209.05 L285.11,208.78 L287.31,208.51 L289.51,208.24 L291.71,207.98 L293.91,207.71 L296.11,207.45 L298.31,207.19 L300.51,206.93 L302.71,206.67 L304.92,206.41 L307.12,206.16 L309.32,205.90 L311.52,205.65 L313.72,205.40 L315.92,205.15 L318.12,204.90 L320.32,204.65 L322.52,204.41 L324.72,204.16 L326.92,203.92 L329.12,203.68 L331.33,203.44 L333.53,203.20 L335.73,202.96 L337.93,202.72 L340.13,202.48 L342.33,202.25 L344.53,202.01 L346.73,201.78 L348.93,201.55 L351.13,201.32 L353.33,201.09 L355.53,200.86 L357.74,200.63 L359.94,200.41 L362.14,200.18 L364.34,199.96 L366.54,199.73 L368.74,199.51 L370.94,199.29 L373.14,199.07 L375.34,198.85 L377.54,198.63 L379.74,198.41 L381.94,198.19 L384.14,197.98 L386.35,197.76 L388.55,197.55 L390.75,197.33 L392.95,197.12 L395.15,196.91 L397.35,196.70 L399.55,196.49 L401.75,196.28 L403.95,196.07 L406.15,195.86 L408.35,195.66 L410.55,195.45 L412.76,195.25 L414.96,195.04 L417.16,194.84 L419.36,194.63 L421.56,194.43 L423.76,194.23 L425.96,194.03 L428.16,193.83 L430.36,193.63 L432.56,193.43 L434.76,193.23 L436.96,193.04 L439.17,192.84 L441.37,192.64 L443.57,192.45 L445.77,192.25 L447.97,192.06 L450.17,191.87 L452.37,191.68 L454.57,191.48 L456.77,191.29 L458.97,191.10 L461.17,190.91 L463.37,190.72 L465.57,190.53 L467.78,190.35 L469.98,190.16 L472.18,189.97 L474.38,189.79 L476.58,189.60 L478.78,189.42 L480.98,189.23 L483.18,189.05 L485.38,188.86 L487.58,188.68 L489.78,188.50 L491.98,188.32 L494.19,188.14 L496.39,187.96 L498.59,187.78 L500.79,187.60 L502.99,187.42 L505.19,187.24 L507.39,187.06 L509.59,186.88 L511.79,186.71 L513.99,186.53 L516.19,186.36 L518.39,186.18 L520.60,186.01 L522.80,185.83 L525.00,185.66 L527.20,185.48 L529.40,185.31 L531.60,185.14 L533.80,184.97" stroke="#4a8a4f" stroke-width="1.9" fill="none"/>
<path d="M93.64,235.54 L95.84,233.96 L98.04,232.47 L100.24,231.06 L102.44,229.72 L104.64,228.45 L106.84,227.22 L109.04,226.05 L111.24,224.91 L113.44,223.82 L115.65,222.77 L117.85,221.74 L120.05,220.75 L122.25,219.78 L124.45,218.84 L126.65,217.93 L128.85,217.04 L131.05,216.17 L133.25,215.31 L135.45,214.48 L137.65,213.67 L139.85,212.87 L142.06,212.09 L144.26,211.32 L146.46,210.56 L148.66,209.82 L150.86,209.10 L153.06,208.38 L155.26,207.68 L157.46,206.99 L159.66,206.31 L161.86,205.64 L164.06,204.97 L166.26,204.32 L168.47,203.68 L170.67,203.05 L172.87,202.42 L175.07,201.81 L177.27,201.20 L179.47,200.60 L181.67,200.00 L183.87,199.42 L186.07,198.84 L188.27,198.27 L190.47,197.70 L192.67,197.14 L194.87,196.59 L197.08,196.04 L199.28,195.50 L201.48,194.96 L203.68,194.43 L205.88,193.90 L208.08,193.38 L210.28,192.87 L212.48,192.36 L214.68,191.85 L216.88,191.35 L219.08,190.86 L221.28,190.36 L223.49,189.88 L225.69,189.39 L227.89,188.91 L230.09,188.44 L232.29,187.97 L234.49,187.50 L236.69,187.04 L238.89,186.58 L241.09,186.12 L243.29,185.67 L245.49,185.22 L247.69,184.78 L249.90,184.33 L252.10,183.89 L254.30,183.46 L256.50,183.03 L258.70,182.60 L260.90,182.17 L263.10,181.75 L265.30,181.33 L267.50,180.91 L269.70,180.49 L271.90,180.08 L274.10,179.67 L276.30,179.26 L278.51,178.86 L280.71,178.46 L282.91,178.06 L285.11,177.66 L287.31,177.27 L289.51,176.88 L291.71,176.49 L293.91,176.10 L296.11,175.72 L298.31,175.33 L300.51,174.95 L302.71,174.57 L304.92,174.20 L307.12,173.82 L309.32,173.45 L311.52,173.08 L313.72,172.72 L315.92,172.35 L318.12,171.99 L320.32,171.62 L322.52,171.26 L324.72,170.91 L326.92,170.55 L329.12,170.20 L331.33,169.84 L333.53,169.49 L335.73,169.14 L337.93,168.80 L340.13,168.45 L342.33,168.11 L344.53,167.77 L346.73,167.42 L348.93,167.09 L351.13,166.75 L353.33,166.41 L355.53,166.08 L357.74,165.75 L359.94,165.42 L362.14,165.09 L364.34,164.76 L366.54,164.43 L368.74,164.11 L370.94,163.78 L373.14,163.46 L375.34,163.14 L377.54,162.82 L379.74,162.50 L381.94,162.19 L384.14,161.87 L386.35,161.56 L388.55,161.24 L390.75,160.93 L392.95,160.62 L395.15,160.31 L397.35,160.00 L399.55,159.70 L401.75,159.39 L403.95,159.09 L406.15,158.79 L408.35,158.48 L410.55,158.18 L412.76,157.88 L414.96,157.59 L417.16,157.29 L419.36,156.99 L421.56,156.70 L423.76,156.41 L425.96,156.11 L428.16,155.82 L430.36,155.53 L432.56,155.24 L434.76,154.95 L436.96,154.67 L439.17,154.38 L441.37,154.10 L443.57,153.81 L445.77,153.53 L447.97,153.25 L450.17,152.96 L452.37,152.68 L454.57,152.41 L456.77,152.13 L458.97,151.85 L461.17,151.57 L463.37,151.30 L465.57,151.02 L467.78,150.75 L469.98,150.48 L472.18,150.20 L474.38,149.93 L476.58,149.66 L478.78,149.39 L480.98,149.13 L483.18,148.86 L485.38,148.59 L487.58,148.33 L489.78,148.06 L491.98,147.80 L494.19,147.53 L496.39,147.27 L498.59,147.01 L500.79,146.75 L502.99,146.49 L505.19,146.23 L507.39,145.97 L509.59,145.71 L511.79,145.46 L513.99,145.20 L516.19,144.94 L518.39,144.69 L520.60,144.44 L522.80,144.18 L525.00,143.93 L527.20,143.68 L529.40,143.43 L531.60,143.18 L533.80,142.93" stroke="#3548a8" stroke-width="1.9" fill="none"/>
<path d="M93.64,229.07 L95.84,227.19 L98.04,225.42 L100.24,223.75 L102.44,222.17 L104.64,220.65 L106.84,219.20 L109.04,217.81 L111.24,216.46 L113.44,215.17 L115.65,213.91 L117.85,212.70 L120.05,211.52 L122.25,210.38 L124.45,209.26 L126.65,208.18 L128.85,207.12 L131.05,206.09 L133.25,205.08 L135.45,204.09 L137.65,203.12 L139.85,202.18 L142.06,201.25 L144.26,200.34 L146.46,199.45 L148.66,198.57 L150.86,197.71 L153.06,196.86 L155.26,196.02 L157.46,195.20 L159.66,194.40 L161.86,193.60 L164.06,192.82 L166.26,192.05 L168.47,191.28 L170.67,190.53 L172.87,189.79 L175.07,189.06 L177.27,188.34 L179.47,187.63 L181.67,186.92 L183.87,186.23 L186.07,185.54 L188.27,184.86 L190.47,184.19 L192.67,183.53 L194.87,182.87 L197.08,182.22 L199.28,181.58 L201.48,180.94 L203.68,180.31 L205.88,179.69 L208.08,179.07 L210.28,178.46 L212.48,177.86 L214.68,177.26 L216.88,176.66 L219.08,176.08 L221.28,175.49 L223.49,174.92 L225.69,174.34 L227.89,173.77 L230.09,173.21 L232.29,172.65 L234.49,172.10 L236.69,171.55 L238.89,171.00 L241.09,170.46 L243.29,169.93 L245.49,169.39 L247.69,168.87 L249.90,168.34 L252.10,167.82 L254.30,167.30 L256.50,166.79 L258.70,166.28 L260.90,165.78 L263.10,165.27 L265.30,164.77 L267.50,164.28 L269.70,163.79 L271.90,163.30 L274.10,162.81 L276.30,162.33 L278.51,161.85 L280.71,161.37 L282.91,160.90 L285.11,160.43 L287.31,159.96 L289.51,159.50 L291.71,159.04 L293.91,158.58 L296.11,158.12 L298.31,157.67 L300.51,157.22 L302.71,156.77 L304.92,156.32 L307.12,155.88 L309.32,155.44 L311.52,155.00 L313.72,154.56 L315.92,154.13 L318.12,153.70 L320.32,153.27 L322.52,152.84 L324.72,152.42 L326.92,152.00 L329.12,151.58 L331.33,151.16 L333.53,150.74 L335.73,150.33 L337.93,149.92 L340.13,149.51 L342.33,149.10 L344.53,148.70 L346.73,148.29 L348.93,147.89 L351.13,147.49 L353.33,147.09 L355.53,146.70 L357.74,146.30 L359.94,145.91 L362.14,145.52 L364.34,145.13 L366.54,144.74 L368.74,144.36 L370.94,143.97 L373.14,143.59 L375.34,143.21 L377.54,142.83 L379.74,142.45 L381.94,142.08 L384.14,141.70 L386.35,141.33 L388.55,140.96 L390.75,140.59 L392.95,140.22 L395.15,139.86 L397.35,139.49 L399.55,139.13 L401.75,138.77 L403.95,138.41 L406.15,138.05 L408.35,137.69 L410.55,137.33 L412.76,136.98 L414.96,136.63 L417.16,136.27 L419.36,135.92 L421.56,135.57 L423.76,135.23 L425.96,134.88 L428.16,134.53 L430.36,134.19 L432.56,133.85 L434.76,133.50 L436.96,133.16 L439.17,132.82 L441.37,132.49 L443.57,132.15 L445.77,131.81 L447.97,131.48 L450.17,131.14 L452.37,130.81 L454.57,130.48 L456.77,130.15 L458.97,129.82 L461.17,129.49 L463.37,129.17 L465.57,128.84 L467.78,128.52 L469.98,128.19 L472.18,127.87 L474.38,127.55 L476.58,127.23 L478.78,126.91 L480.98,126.59 L483.18,126.28 L485.38,125.96 L487.58,125.64 L489.78,125.33 L491.98,125.02 L494.19,124.71 L496.39,124.39 L498.59,124.08 L500.79,123.77 L502.99,123.47 L505.19,123.16 L507.39,122.85 L509.59,122.55 L511.79,122.24 L513.99,121.94 L516.19,121.63 L518.39,121.33 L520.60,121.03 L522.80,120.73 L525.00,120.43 L527.20,120.13 L529.40,119.84 L531.60,119.54 L533.80,119.24" stroke="#a8421e" stroke-width="1.9" fill="none"/>
<line x1="96" y1="16.9" x2="126" y2="16.9" stroke="#4a8a4f" stroke-width="1.9" fill="none"/>
<text x="129.1" y="22.70" font-size="14" textLength="66.1" lengthAdjust="spacingAndGlyphs">T5 Sample</text>
<line x1="96" y1="36.5" x2="126" y2="36.5" stroke="#3548a8" stroke-width="1.9" fill="none"/>
<text x="129.1" y="41.80" font-size="14" textLength="75.6" lengthAdjust="spacingAndGlyphs">T50 Sample</text>
<line x1="96" y1="55.4" x2="126" y2="55.4" stroke="#a8421e" stroke-width="1.9" fill="none"/>
<text x="129.1" y="60.70" font-size="14" textLength="83.1" lengthAdjust="spacingAndGlyphs">T200 Sample</text>
<line x1="232" y1="17.3" x2="260" y2="17.3" stroke="#3a8543" stroke-width="2.55" stroke-dasharray="10.2 7.7"/>
<text x="265.2" y="22.70" font-size="14" textLength="81" lengthAdjust="spacingAndGlyphs">T5 STORAGE</text>
<line x1="232" y1="36.4" x2="260" y2="36.4" stroke="#3448a8" stroke-width="2.55" stroke-dasharray="10.2 7.7"/>
<text x="265.2" y="41.80" font-size="14" textLength="88.2" lengthAdjust="spacingAndGlyphs">T50 STORAGE</text>
<line x1="232" y1="55.6" x2="260" y2="55.6" stroke="#9c3f1b" stroke-width="2.55" stroke-dasharray="10.2 7.7"/>
<text x="265.2" y="60.70" font-size="14" textLength="96" lengthAdjust="spacingAndGlyphs">T200 STORAGE</text>
<circle cx="368.90" cy="17.3" r="1.35" fill="#3f7a45"/>
<circle cx="374.00" cy="17.3" r="1.35" fill="#3f7a45"/>
<circle cx="379.10" cy="17.3" r="1.35" fill="#3f7a45"/>
<circle cx="384.20" cy="17.3" r="1.35" fill="#3f7a45"/>
<circle cx="389.30" cy="17.3" r="1.35" fill="#3f7a45"/>
<circle cx="394.40" cy="17.3" r="1.35" fill="#3f7a45"/>
<text x="402.3" y="22.70" font-size="14" textLength="76.8" lengthAdjust="spacingAndGlyphs">T5 NSRP_v0</text>
<circle cx="368.90" cy="36.4" r="1.35" fill="#3a4ca8"/>
<circle cx="374.00" cy="36.4" r="1.35" fill="#3a4ca8"/>
<circle cx="379.10" cy="36.4" r="1.35" fill="#3a4ca8"/>
<circle cx="384.20" cy="36.4" r="1.35" fill="#3a4ca8"/>
<circle cx="389.30" cy="36.4" r="1.35" fill="#3a4ca8"/>
<circle cx="394.40" cy="36.4" r="1.35" fill="#3a4ca8"/>
<text x="402.3" y="41.80" font-size="14" textLength="84.8" lengthAdjust="spacingAndGlyphs">T50 NSRP_v0</text>
<circle cx="368.90" cy="55.6" r="1.35" fill="#7a3f22"/>
<circle cx="374.00" cy="55.6" r="1.35" fill="#7a3f22"/>
<circle cx="379.10" cy="55.6" r="1.35" fill="#7a3f22"/>
<circle cx="384.20" cy="55.6" r="1.35" fill="#7a3f22"/>
<circle cx="389.30" cy="55.6" r="1.35" fill="#7a3f22"/>
<circle cx="394.40" cy="55.6" r="1.35" fill="#7a3f22"/>
<text x="402.3" y="60.70" font-size="14" textLength="93.3" lengthAdjust="spacingAndGlyphs">T200 NSRP_v0</text>
</svg>
</body></html>
